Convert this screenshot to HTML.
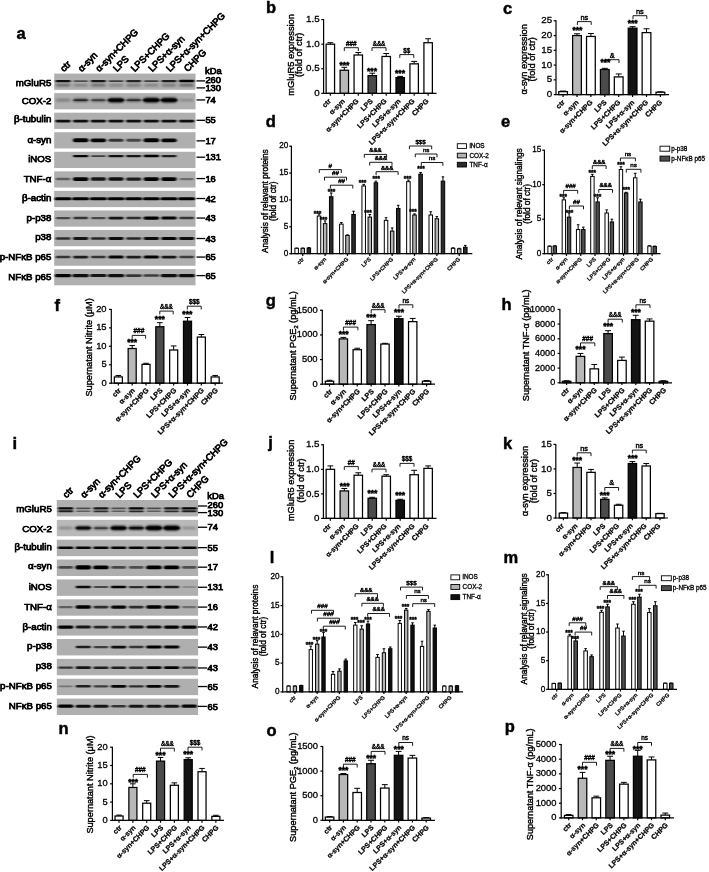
<!DOCTYPE html><html><head><meta charset="utf-8"><style>html,body{margin:0;padding:0;background:#fff;}svg{display:block;filter:blur(0.35px);}text{font-family:"Liberation Sans",sans-serif;}</style></head><body>
<svg width="709" height="872" viewBox="0 0 709 872">
<defs><filter id="bl" x="-30%" y="-150%" width="160%" height="400%"><feGaussianBlur stdDeviation="0.9 0.6"/></filter><filter id="bl2" x="-30%" y="-150%" width="160%" height="400%"><feGaussianBlur stdDeviation="1.4 1.3"/></filter></defs>
<rect width="709" height="872" fill="#fff"/>
<text x="16.4" y="38.7" font-size="16.5" font-weight="bold" stroke="#000" stroke-width="0.45">a</text>
<text x="64.03" y="72.2" font-size="9.4" transform="rotate(-45 64.03 72.2)" stroke="#000" stroke-width="0.75">ctr</text>
<text x="81.69" y="72.2" font-size="9.4" transform="rotate(-45 81.69 72.2)" stroke="#000" stroke-width="0.75">α-syn</text>
<text x="99.36" y="72.2" font-size="9.4" transform="rotate(-45 99.36 72.2)" stroke="#000" stroke-width="0.75">α-syn+CHPG</text>
<text x="117.02" y="72.2" font-size="9.4" transform="rotate(-45 117.02 72.2)" stroke="#000" stroke-width="0.75">LPS</text>
<text x="134.68" y="72.2" font-size="9.4" transform="rotate(-45 134.68 72.2)" stroke="#000" stroke-width="0.75">LPS+CHPG</text>
<text x="152.34" y="72.2" font-size="9.4" transform="rotate(-45 152.34 72.2)" stroke="#000" stroke-width="0.75">LPS+α-syn</text>
<text x="170.01" y="72.2" font-size="9.4" transform="rotate(-45 170.01 72.2)" stroke="#000" stroke-width="0.75">LPS+α-syn+CHPG</text>
<text x="187.67" y="72.2" font-size="9.4" transform="rotate(-45 187.67 72.2)" stroke="#000" stroke-width="0.75">CHPG</text>
<text x="205.1" y="74.4" font-size="9.4" stroke="#000" stroke-width="0.75">kDa</text>
<rect x="54.2" y="73.6" width="141.3" height="16.2" fill="#afafaf"/>
<rect x="55.35" y="79.92" width="15.37" height="2.37" rx="1.18" fill="#000" fill-opacity="0.92" filter="url(#bl)"/>
<rect x="73.36" y="80.2" width="14.66" height="1.79" rx="0.9" fill="#000" fill-opacity="0.56" filter="url(#bl)"/>
<rect x="90.72" y="79.95" width="15.28" height="2.29" rx="1.15" fill="#000" fill-opacity="0.88" filter="url(#bl)"/>
<rect x="108.6" y="80.13" width="14.84" height="1.94" rx="0.97" fill="#000" fill-opacity="0.65" filter="url(#bl)"/>
<rect x="126.13" y="80.02" width="15.1" height="2.15" rx="1.08" fill="#000" fill-opacity="0.79" filter="url(#bl)"/>
<rect x="143.93" y="80.13" width="14.84" height="1.94" rx="0.97" fill="#000" fill-opacity="0.65" filter="url(#bl)"/>
<rect x="161.41" y="79.99" width="15.19" height="2.22" rx="1.11" fill="#000" fill-opacity="0.83" filter="url(#bl)"/>
<rect x="178.9" y="79.85" width="15.54" height="2.51" rx="1.25" fill="#000" fill-opacity="1" filter="url(#bl)"/>
<rect x="55.77" y="84.1" width="14.52" height="2.2" rx="1.1" fill="#000" fill-opacity="0.49" filter="url(#bl2)"/>
<rect x="73.58" y="84.25" width="14.24" height="1.9" rx="0.95" fill="#000" fill-opacity="0.34" filter="url(#bl2)"/>
<rect x="91.11" y="84.12" width="14.48" height="2.16" rx="1.08" fill="#000" fill-opacity="0.47" filter="url(#bl2)"/>
<rect x="108.9" y="84.25" width="14.24" height="1.9" rx="0.95" fill="#000" fill-opacity="0.34" filter="url(#bl2)"/>
<rect x="126.49" y="84.18" width="14.38" height="2.05" rx="1.02" fill="#000" fill-opacity="0.42" filter="url(#bl2)"/>
<rect x="144.23" y="84.25" width="14.24" height="1.9" rx="0.95" fill="#000" fill-opacity="0.34" filter="url(#bl2)"/>
<rect x="161.8" y="84.16" width="14.41" height="2.08" rx="1.04" fill="#000" fill-opacity="0.43" filter="url(#bl2)"/>
<rect x="179.37" y="84.06" width="14.59" height="2.27" rx="1.14" fill="#000" fill-opacity="0.52" filter="url(#bl2)"/>
<text x="51.3" y="85.6" font-size="9.7" text-anchor="end" stroke="#000" stroke-width="0.75">mGluR5</text>
<line x1="196.5" y1="80.9" x2="205.2" y2="80.9" stroke="#000" stroke-width="1.3"/>
<text x="205.4" y="82.8" font-size="9.4" stroke="#000" stroke-width="0.75">260</text>
<line x1="196.5" y1="87.9" x2="205.2" y2="87.9" stroke="#000" stroke-width="1.3"/>
<text x="205.4" y="91" font-size="9.4" stroke="#000" stroke-width="0.75">130</text>
<rect x="54.2" y="93.15" width="141.3" height="16.2" fill="#afafaf"/>
<rect x="55.95" y="98.86" width="14.17" height="2.57" rx="1.29" fill="#000" fill-opacity="0.31" filter="url(#bl2)"/>
<rect x="73.35" y="98.47" width="14.7" height="3.36" rx="1.68" fill="#000" fill-opacity="0.58" filter="url(#bl2)"/>
<rect x="91.11" y="98.63" width="14.48" height="3.05" rx="1.52" fill="#000" fill-opacity="0.47" filter="url(#bl2)"/>
<rect x="108.29" y="97.9" width="15.45" height="4.5" rx="2.25" fill="#000" fill-opacity="0.97" filter="url(#bl2)"/>
<rect x="126.35" y="98.49" width="14.66" height="3.31" rx="1.66" fill="#000" fill-opacity="0.56" filter="url(#bl2)"/>
<rect x="143.48" y="97.7" width="15.72" height="4.9" rx="2.45" fill="#000" fill-opacity="1" filter="url(#bl2)"/>
<rect x="161.19" y="97.77" width="15.63" height="4.76" rx="2.38" fill="#000" fill-opacity="1" filter="url(#bl2)"/>
<rect x="179.64" y="98.94" width="14.06" height="2.41" rx="1.21" fill="#000" fill-opacity="0.25" filter="url(#bl2)"/>
<rect x="73.36" y="99.18" width="14.66" height="1.93" rx="0.97" fill="#000" fill-opacity="0.56" filter="url(#bl)"/>
<rect x="91.16" y="99.3" width="14.39" height="1.7" rx="0.85" fill="#000" fill-opacity="0.43" filter="url(#bl)"/>
<rect x="108.29" y="98.84" width="15.45" height="2.62" rx="1.31" fill="#000" fill-opacity="0.97" filter="url(#bl)"/>
<rect x="126.4" y="99.22" width="14.57" height="1.85" rx="0.93" fill="#000" fill-opacity="0.52" filter="url(#bl)"/>
<rect x="143.48" y="98.72" width="15.72" height="2.86" rx="1.43" fill="#000" fill-opacity="1" filter="url(#bl)"/>
<rect x="161.19" y="98.76" width="15.63" height="2.78" rx="1.39" fill="#000" fill-opacity="1" filter="url(#bl)"/>
<text x="51.3" y="103.85" font-size="9.7" text-anchor="end" stroke="#000" stroke-width="0.75">COX-2</text>
<line x1="196.5" y1="99.95" x2="205.2" y2="99.95" stroke="#000" stroke-width="1.3"/>
<text x="205.4" y="103.05" font-size="9.4" stroke="#000" stroke-width="0.75">74</text>
<rect x="54.2" y="112.7" width="141.3" height="16.2" fill="#afafaf"/>
<rect x="55.35" y="119.83" width="15.37" height="2.55" rx="1.27" fill="#000" fill-opacity="0.92" filter="url(#bl)"/>
<rect x="73.01" y="119.83" width="15.37" height="2.55" rx="1.27" fill="#000" fill-opacity="0.92" filter="url(#bl)"/>
<rect x="90.67" y="119.83" width="15.37" height="2.55" rx="1.27" fill="#000" fill-opacity="0.92" filter="url(#bl)"/>
<rect x="108.34" y="119.83" width="15.37" height="2.55" rx="1.27" fill="#000" fill-opacity="0.92" filter="url(#bl)"/>
<rect x="126" y="119.83" width="15.37" height="2.55" rx="1.27" fill="#000" fill-opacity="0.92" filter="url(#bl)"/>
<rect x="143.66" y="119.83" width="15.37" height="2.55" rx="1.27" fill="#000" fill-opacity="0.92" filter="url(#bl)"/>
<rect x="161.32" y="119.83" width="15.37" height="2.55" rx="1.27" fill="#000" fill-opacity="0.92" filter="url(#bl)"/>
<rect x="178.99" y="119.83" width="15.37" height="2.55" rx="1.27" fill="#000" fill-opacity="0.92" filter="url(#bl)"/>
<text x="51.3" y="122.3" font-size="9.7" text-anchor="end" stroke="#000" stroke-width="0.75">β-tubulin</text>
<line x1="196.5" y1="120.3" x2="205.2" y2="120.3" stroke="#000" stroke-width="1.3"/>
<text x="205.4" y="123.4" font-size="9.4" stroke="#000" stroke-width="0.75">55</text>
<rect x="54.2" y="132.25" width="141.3" height="16.2" fill="#afafaf"/>
<rect x="72.92" y="138.32" width="15.54" height="3.86" rx="1.93" fill="#000" fill-opacity="1" filter="url(#bl)"/>
<rect x="90.63" y="138.38" width="15.45" height="3.75" rx="1.88" fill="#000" fill-opacity="0.97" filter="url(#bl)"/>
<rect x="108.56" y="138.71" width="14.92" height="3.09" rx="1.54" fill="#000" fill-opacity="0.7" filter="url(#bl)"/>
<rect x="126.31" y="138.81" width="14.75" height="2.87" rx="1.44" fill="#000" fill-opacity="0.6" filter="url(#bl)"/>
<rect x="143.53" y="138.26" width="15.63" height="3.97" rx="1.98" fill="#000" fill-opacity="1" filter="url(#bl)"/>
<rect x="161.28" y="138.38" width="15.45" height="3.75" rx="1.88" fill="#000" fill-opacity="0.97" filter="url(#bl)"/>
<text x="51.3" y="142.65" font-size="9.7" text-anchor="end" stroke="#000" stroke-width="0.75">α-syn</text>
<line x1="196.5" y1="140.85" x2="205.2" y2="140.85" stroke="#000" stroke-width="1.3"/>
<text x="205.4" y="143.95" font-size="9.4" stroke="#000" stroke-width="0.75">17</text>
<rect x="54.2" y="151.8" width="141.3" height="16.2" fill="#afafaf"/>
<rect x="72.97" y="154.88" width="15.45" height="2.44" rx="1.22" fill="#000" fill-opacity="0.97" filter="url(#bl)"/>
<rect x="90.94" y="155.13" width="14.84" height="1.94" rx="0.97" fill="#000" fill-opacity="0.65" filter="url(#bl)"/>
<rect x="108.34" y="154.92" width="15.37" height="2.37" rx="1.18" fill="#000" fill-opacity="0.92" filter="url(#bl)"/>
<rect x="126.04" y="154.95" width="15.28" height="2.29" rx="1.15" fill="#000" fill-opacity="0.88" filter="url(#bl)"/>
<rect x="143.57" y="154.85" width="15.54" height="2.51" rx="1.25" fill="#000" fill-opacity="1" filter="url(#bl)"/>
<rect x="161.41" y="154.99" width="15.19" height="2.22" rx="1.11" fill="#000" fill-opacity="0.83" filter="url(#bl)"/>
<text x="51.3" y="161.7" font-size="9.7" text-anchor="end" stroke="#000" stroke-width="0.75">iNOS</text>
<line x1="196.5" y1="157.2" x2="205.2" y2="157.2" stroke="#000" stroke-width="1.3"/>
<text x="205.4" y="160.3" font-size="9.4" stroke="#000" stroke-width="0.75">131</text>
<rect x="54.2" y="171.35" width="141.3" height="16.2" fill="#afafaf"/>
<rect x="55.79" y="177.84" width="14.48" height="2.41" rx="1.21" fill="#000" fill-opacity="0.47" filter="url(#bl)"/>
<rect x="72.88" y="177.16" width="15.63" height="3.77" rx="1.89" fill="#000" fill-opacity="1" filter="url(#bl)"/>
<rect x="90.72" y="177.37" width="15.28" height="3.35" rx="1.68" fill="#000" fill-opacity="0.88" filter="url(#bl)"/>
<rect x="108.34" y="177.32" width="15.37" height="3.46" rx="1.73" fill="#000" fill-opacity="0.92" filter="url(#bl)"/>
<rect x="126.09" y="177.43" width="15.19" height="3.25" rx="1.62" fill="#000" fill-opacity="0.83" filter="url(#bl)"/>
<rect x="143.57" y="177.22" width="15.54" height="3.67" rx="1.83" fill="#000" fill-opacity="1" filter="url(#bl)"/>
<rect x="161.23" y="177.22" width="15.54" height="3.67" rx="1.83" fill="#000" fill-opacity="1" filter="url(#bl)"/>
<rect x="179.52" y="177.95" width="14.31" height="2.2" rx="1.1" fill="#000" fill-opacity="0.38" filter="url(#bl)"/>
<text x="51.3" y="181.75" font-size="9.7" text-anchor="end" stroke="#000" stroke-width="0.75">TNF-α</text>
<line x1="196.5" y1="178.55" x2="205.2" y2="178.55" stroke="#000" stroke-width="1.3"/>
<text x="205.4" y="181.65" font-size="9.4" stroke="#000" stroke-width="0.75">16</text>
<rect x="54.2" y="190.9" width="141.3" height="16.2" fill="#afafaf"/>
<rect x="54.46" y="197.16" width="17.13" height="3.09" rx="1.54" fill="#000" fill-opacity="1" filter="url(#bl)"/>
<rect x="72.13" y="197.16" width="17.13" height="3.09" rx="1.54" fill="#000" fill-opacity="1" filter="url(#bl)"/>
<rect x="89.79" y="197.16" width="17.13" height="3.09" rx="1.54" fill="#000" fill-opacity="1" filter="url(#bl)"/>
<rect x="107.45" y="197.16" width="17.13" height="3.09" rx="1.54" fill="#000" fill-opacity="1" filter="url(#bl)"/>
<rect x="125.11" y="197.16" width="17.13" height="3.09" rx="1.54" fill="#000" fill-opacity="1" filter="url(#bl)"/>
<rect x="142.78" y="197.16" width="17.13" height="3.09" rx="1.54" fill="#000" fill-opacity="1" filter="url(#bl)"/>
<rect x="160.44" y="197.16" width="17.13" height="3.09" rx="1.54" fill="#000" fill-opacity="1" filter="url(#bl)"/>
<rect x="178.1" y="197.16" width="17.13" height="3.09" rx="1.54" fill="#000" fill-opacity="1" filter="url(#bl)"/>
<text x="51.3" y="200.8" font-size="9.7" text-anchor="end" stroke="#000" stroke-width="0.75">β-actin</text>
<line x1="196.5" y1="198.5" x2="205.2" y2="198.5" stroke="#000" stroke-width="1.3"/>
<text x="205.4" y="201.6" font-size="9.4" stroke="#000" stroke-width="0.75">42</text>
<rect x="54.2" y="210.45" width="141.3" height="16.2" fill="#afafaf"/>
<rect x="55.66" y="216.9" width="14.75" height="2.3" rx="1.15" fill="#000" fill-opacity="0.6" filter="url(#bl)"/>
<rect x="73.23" y="216.81" width="14.92" height="2.47" rx="1.24" fill="#000" fill-opacity="0.7" filter="url(#bl)"/>
<rect x="90.98" y="216.9" width="14.75" height="2.3" rx="1.15" fill="#000" fill-opacity="0.6" filter="url(#bl)"/>
<rect x="108.38" y="216.64" width="15.28" height="2.82" rx="1.41" fill="#000" fill-opacity="0.88" filter="url(#bl)"/>
<rect x="126.17" y="216.77" width="15.01" height="2.56" rx="1.28" fill="#000" fill-opacity="0.74" filter="url(#bl)"/>
<rect x="143.48" y="216.42" width="15.72" height="3.26" rx="1.63" fill="#000" fill-opacity="1" filter="url(#bl)"/>
<rect x="161.28" y="216.55" width="15.45" height="3" rx="1.5" fill="#000" fill-opacity="0.97" filter="url(#bl)"/>
<rect x="179.21" y="216.81" width="14.92" height="2.47" rx="1.24" fill="#000" fill-opacity="0.7" filter="url(#bl)"/>
<text x="51.3" y="220.85" font-size="9.7" text-anchor="end" stroke="#000" stroke-width="0.75">p-p38</text>
<line x1="196.5" y1="218.05" x2="205.2" y2="218.05" stroke="#000" stroke-width="1.3"/>
<text x="205.4" y="221.15" font-size="9.4" stroke="#000" stroke-width="0.75">43</text>
<rect x="54.2" y="230" width="141.3" height="16.2" fill="#afafaf"/>
<rect x="55.52" y="237.22" width="15.01" height="2.56" rx="1.28" fill="#000" fill-opacity="0.74" filter="url(#bl)"/>
<rect x="73.05" y="237.09" width="15.28" height="2.82" rx="1.41" fill="#000" fill-opacity="0.88" filter="url(#bl)"/>
<rect x="90.81" y="237.18" width="15.1" height="2.65" rx="1.32" fill="#000" fill-opacity="0.79" filter="url(#bl)"/>
<rect x="108.34" y="237.04" width="15.37" height="2.91" rx="1.46" fill="#000" fill-opacity="0.92" filter="url(#bl)"/>
<rect x="126.13" y="237.18" width="15.1" height="2.65" rx="1.32" fill="#000" fill-opacity="0.79" filter="url(#bl)"/>
<rect x="143.66" y="237.04" width="15.37" height="2.91" rx="1.46" fill="#000" fill-opacity="0.92" filter="url(#bl)"/>
<rect x="161.28" y="237" width="15.45" height="3" rx="1.5" fill="#000" fill-opacity="0.97" filter="url(#bl)"/>
<rect x="178.99" y="237.04" width="15.37" height="2.91" rx="1.46" fill="#000" fill-opacity="0.92" filter="url(#bl)"/>
<text x="51.3" y="240.4" font-size="9.7" text-anchor="end" stroke="#000" stroke-width="0.75">p38</text>
<line x1="196.5" y1="238.5" x2="205.2" y2="238.5" stroke="#000" stroke-width="1.3"/>
<text x="205.4" y="241.6" font-size="9.4" stroke="#000" stroke-width="0.75">43</text>
<rect x="54.2" y="249.55" width="141.3" height="16.2" fill="#afafaf"/>
<rect x="55.57" y="255.81" width="14.92" height="2.47" rx="1.24" fill="#000" fill-opacity="0.7" filter="url(#bl)"/>
<rect x="73.1" y="255.68" width="15.19" height="2.74" rx="1.37" fill="#000" fill-opacity="0.83" filter="url(#bl)"/>
<rect x="90.89" y="255.81" width="14.92" height="2.47" rx="1.24" fill="#000" fill-opacity="0.7" filter="url(#bl)"/>
<rect x="108.29" y="255.55" width="15.45" height="3" rx="1.5" fill="#000" fill-opacity="0.97" filter="url(#bl)"/>
<rect x="126.09" y="255.68" width="15.19" height="2.74" rx="1.37" fill="#000" fill-opacity="0.83" filter="url(#bl)"/>
<rect x="143.57" y="255.51" width="15.54" height="3.09" rx="1.54" fill="#000" fill-opacity="1" filter="url(#bl)"/>
<rect x="161.37" y="255.64" width="15.28" height="2.82" rx="1.41" fill="#000" fill-opacity="0.88" filter="url(#bl)"/>
<rect x="179.25" y="255.86" width="14.84" height="2.38" rx="1.19" fill="#000" fill-opacity="0.65" filter="url(#bl)"/>
<text x="51.3" y="259.95" font-size="9.7" text-anchor="end" stroke="#000" stroke-width="0.75">p-NFκB p65</text>
<line x1="196.5" y1="257.05" x2="205.2" y2="257.05" stroke="#000" stroke-width="1.3"/>
<text x="205.4" y="260.15" font-size="9.4" stroke="#000" stroke-width="0.75">65</text>
<rect x="54.2" y="269.1" width="141.3" height="16.2" fill="#afafaf"/>
<rect x="54.69" y="274.01" width="16.69" height="3.19" rx="1.59" fill="#000" fill-opacity="0.97" filter="url(#bl)"/>
<rect x="72.39" y="274.05" width="16.6" height="3.09" rx="1.55" fill="#000" fill-opacity="0.92" filter="url(#bl)"/>
<rect x="90.1" y="274.1" width="16.51" height="3" rx="1.5" fill="#000" fill-opacity="0.88" filter="url(#bl)"/>
<rect x="107.72" y="274.05" width="16.6" height="3.09" rx="1.55" fill="#000" fill-opacity="0.92" filter="url(#bl)"/>
<rect x="125.6" y="274.29" width="16.16" height="2.63" rx="1.31" fill="#000" fill-opacity="0.7" filter="url(#bl)"/>
<rect x="143.31" y="274.33" width="16.07" height="2.53" rx="1.27" fill="#000" fill-opacity="0.65" filter="url(#bl)"/>
<rect x="160.7" y="274.05" width="16.6" height="3.09" rx="1.55" fill="#000" fill-opacity="0.92" filter="url(#bl)"/>
<rect x="178.37" y="274.05" width="16.6" height="3.09" rx="1.55" fill="#000" fill-opacity="0.92" filter="url(#bl)"/>
<text x="51.3" y="279.5" font-size="9.7" text-anchor="end" stroke="#000" stroke-width="0.75">NFκB p65</text>
<line x1="196.5" y1="275.6" x2="205.2" y2="275.6" stroke="#000" stroke-width="1.3"/>
<text x="205.4" y="278.7" font-size="9.4" stroke="#000" stroke-width="0.75">65</text>
<text x="12.4" y="448.6" font-size="16.5" font-weight="bold" stroke="#000" stroke-width="0.45">i</text>
<text x="66.63" y="498.4" font-size="9.4" transform="rotate(-45 66.63 498.4)" stroke="#000" stroke-width="0.75">ctr</text>
<text x="84.29" y="498.4" font-size="9.4" transform="rotate(-45 84.29 498.4)" stroke="#000" stroke-width="0.75">α-syn</text>
<text x="101.96" y="498.4" font-size="9.4" transform="rotate(-45 101.96 498.4)" stroke="#000" stroke-width="0.75">α-syn+CHPG</text>
<text x="119.62" y="498.4" font-size="9.4" transform="rotate(-45 119.62 498.4)" stroke="#000" stroke-width="0.75">LPS</text>
<text x="137.28" y="498.4" font-size="9.4" transform="rotate(-45 137.28 498.4)" stroke="#000" stroke-width="0.75">LPS+CHPG</text>
<text x="154.94" y="498.4" font-size="9.4" transform="rotate(-45 154.94 498.4)" stroke="#000" stroke-width="0.75">LPS+α-syn</text>
<text x="172.61" y="498.4" font-size="9.4" transform="rotate(-45 172.61 498.4)" stroke="#000" stroke-width="0.75">LPS+α-syn+CHPG</text>
<text x="190.27" y="498.4" font-size="9.4" transform="rotate(-45 190.27 498.4)" stroke="#000" stroke-width="0.75">CHPG</text>
<text x="207.3" y="498.6" font-size="9.4" stroke="#000" stroke-width="0.75">kDa</text>
<rect x="56.8" y="500" width="141.3" height="16.4" fill="#afafaf"/>
<rect x="57.9" y="507.27" width="15.45" height="2.25" rx="1.12" fill="#000" fill-opacity="0.97" filter="url(#bl)"/>
<rect x="75.96" y="507.57" width="14.66" height="1.66" rx="0.83" fill="#000" fill-opacity="0.56" filter="url(#bl)"/>
<rect x="93.32" y="507.34" width="15.28" height="2.12" rx="1.06" fill="#000" fill-opacity="0.88" filter="url(#bl)"/>
<rect x="111.29" y="507.57" width="14.66" height="1.66" rx="0.83" fill="#000" fill-opacity="0.56" filter="url(#bl)"/>
<rect x="128.55" y="507.27" width="15.45" height="2.25" rx="1.12" fill="#000" fill-opacity="0.97" filter="url(#bl)"/>
<rect x="146.61" y="507.57" width="14.66" height="1.66" rx="0.83" fill="#000" fill-opacity="0.56" filter="url(#bl)"/>
<rect x="163.97" y="507.34" width="15.28" height="2.12" rx="1.06" fill="#000" fill-opacity="0.88" filter="url(#bl)"/>
<rect x="181.45" y="507.21" width="15.63" height="2.38" rx="1.19" fill="#000" fill-opacity="1" filter="url(#bl)"/>
<rect x="58.04" y="510.36" width="15.19" height="1.88" rx="0.94" fill="#000" fill-opacity="0.83" filter="url(#bl)"/>
<rect x="76.05" y="510.6" width="14.48" height="1.4" rx="0.7" fill="#000" fill-opacity="0.47" filter="url(#bl)"/>
<rect x="93.45" y="510.42" width="15.01" height="1.76" rx="0.88" fill="#000" fill-opacity="0.74" filter="url(#bl)"/>
<rect x="111.38" y="510.6" width="14.48" height="1.4" rx="0.7" fill="#000" fill-opacity="0.47" filter="url(#bl)"/>
<rect x="128.73" y="510.39" width="15.1" height="1.82" rx="0.91" fill="#000" fill-opacity="0.79" filter="url(#bl)"/>
<rect x="146.7" y="510.6" width="14.48" height="1.4" rx="0.7" fill="#000" fill-opacity="0.47" filter="url(#bl)"/>
<rect x="164.1" y="510.42" width="15.01" height="1.76" rx="0.88" fill="#000" fill-opacity="0.74" filter="url(#bl)"/>
<rect x="181.67" y="510.36" width="15.19" height="1.88" rx="0.94" fill="#000" fill-opacity="0.83" filter="url(#bl)"/>
<text x="51.8" y="511.6" font-size="9.7" text-anchor="end" stroke="#000" stroke-width="0.75">mGluR5</text>
<line x1="198" y1="506" x2="207.2" y2="506" stroke="#000" stroke-width="1.3"/>
<text x="207.5" y="507.9" font-size="9.4" stroke="#000" stroke-width="0.75">260</text>
<line x1="198" y1="512.6" x2="207.2" y2="512.6" stroke="#000" stroke-width="1.3"/>
<text x="207.5" y="515.7" font-size="9.4" stroke="#000" stroke-width="0.75">130</text>
<rect x="56.8" y="519.86" width="141.3" height="16.4" fill="#b9b9b9"/>
<rect x="58.57" y="526.8" width="14.13" height="2.52" rx="1.26" fill="#000" fill-opacity="0.29" filter="url(#bl2)"/>
<rect x="75.7" y="526.01" width="15.19" height="4.1" rx="2.05" fill="#000" fill-opacity="0.83" filter="url(#bl2)"/>
<rect x="93.67" y="526.47" width="14.57" height="3.18" rx="1.59" fill="#000" fill-opacity="0.52" filter="url(#bl2)"/>
<rect x="110.89" y="525.81" width="15.45" height="4.5" rx="2.25" fill="#000" fill-opacity="0.97" filter="url(#bl2)"/>
<rect x="128.73" y="526.07" width="15.1" height="3.97" rx="1.99" fill="#000" fill-opacity="0.79" filter="url(#bl2)"/>
<rect x="146.08" y="525.61" width="15.72" height="4.9" rx="2.45" fill="#000" fill-opacity="1" filter="url(#bl2)"/>
<rect x="163.75" y="525.61" width="15.72" height="4.9" rx="2.45" fill="#000" fill-opacity="1" filter="url(#bl2)"/>
<rect x="182.22" y="526.83" width="14.09" height="2.47" rx="1.23" fill="#000" fill-opacity="0.27" filter="url(#bl2)"/>
<rect x="75.79" y="526.86" width="15.01" height="2.4" rx="1.2" fill="#000" fill-opacity="0.74" filter="url(#bl)"/>
<rect x="93.76" y="527.15" width="14.39" height="1.82" rx="0.91" fill="#000" fill-opacity="0.43" filter="url(#bl)"/>
<rect x="110.94" y="526.7" width="15.37" height="2.73" rx="1.36" fill="#000" fill-opacity="0.92" filter="url(#bl)"/>
<rect x="128.82" y="526.9" width="14.92" height="2.32" rx="1.16" fill="#000" fill-opacity="0.7" filter="url(#bl)"/>
<rect x="146.08" y="526.53" width="15.72" height="3.06" rx="1.53" fill="#000" fill-opacity="1" filter="url(#bl)"/>
<rect x="163.75" y="526.53" width="15.72" height="3.06" rx="1.53" fill="#000" fill-opacity="1" filter="url(#bl)"/>
<text x="51.8" y="531.56" font-size="9.7" text-anchor="end" stroke="#000" stroke-width="0.75">COX-2</text>
<line x1="198" y1="527.26" x2="207.2" y2="527.26" stroke="#000" stroke-width="1.3"/>
<text x="207.5" y="530.36" font-size="9.4" stroke="#000" stroke-width="0.75">74</text>
<rect x="56.8" y="539.72" width="141.3" height="16.4" fill="#afafaf"/>
<rect x="57.9" y="546.5" width="15.45" height="2.44" rx="1.22" fill="#000" fill-opacity="0.97" filter="url(#bl)"/>
<rect x="75.57" y="546.5" width="15.45" height="2.44" rx="1.22" fill="#000" fill-opacity="0.97" filter="url(#bl)"/>
<rect x="93.23" y="546.5" width="15.45" height="2.44" rx="1.22" fill="#000" fill-opacity="0.97" filter="url(#bl)"/>
<rect x="110.89" y="546.5" width="15.45" height="2.44" rx="1.22" fill="#000" fill-opacity="0.97" filter="url(#bl)"/>
<rect x="128.55" y="546.5" width="15.45" height="2.44" rx="1.22" fill="#000" fill-opacity="0.97" filter="url(#bl)"/>
<rect x="146.22" y="546.5" width="15.45" height="2.44" rx="1.22" fill="#000" fill-opacity="0.97" filter="url(#bl)"/>
<rect x="163.88" y="546.5" width="15.45" height="2.44" rx="1.22" fill="#000" fill-opacity="0.97" filter="url(#bl)"/>
<rect x="181.54" y="546.5" width="15.45" height="2.44" rx="1.22" fill="#000" fill-opacity="0.97" filter="url(#bl)"/>
<text x="51.8" y="550.32" font-size="9.7" text-anchor="end" stroke="#000" stroke-width="0.75">β-tubulin</text>
<line x1="198" y1="547.62" x2="207.2" y2="547.62" stroke="#000" stroke-width="1.3"/>
<text x="207.5" y="550.72" font-size="9.4" stroke="#000" stroke-width="0.75">55</text>
<rect x="56.8" y="559.58" width="141.3" height="16.4" fill="#afafaf"/>
<rect x="58.26" y="565.95" width="14.75" height="2.87" rx="1.44" fill="#000" fill-opacity="0.6" filter="url(#bl)"/>
<rect x="75.43" y="565.34" width="15.72" height="4.08" rx="2.04" fill="#000" fill-opacity="1" filter="url(#bl)"/>
<rect x="93.18" y="565.45" width="15.54" height="3.86" rx="1.93" fill="#000" fill-opacity="1" filter="url(#bl)"/>
<rect x="111.24" y="565.95" width="14.75" height="2.87" rx="1.44" fill="#000" fill-opacity="0.6" filter="url(#bl)"/>
<rect x="128.95" y="566" width="14.66" height="2.76" rx="1.38" fill="#000" fill-opacity="0.56" filter="url(#bl)"/>
<rect x="146.17" y="565.45" width="15.54" height="3.86" rx="1.93" fill="#000" fill-opacity="1" filter="url(#bl)"/>
<rect x="163.83" y="565.45" width="15.54" height="3.86" rx="1.93" fill="#000" fill-opacity="1" filter="url(#bl)"/>
<rect x="181.94" y="566" width="14.66" height="2.76" rx="1.38" fill="#000" fill-opacity="0.56" filter="url(#bl)"/>
<text x="51.8" y="569.18" font-size="9.7" text-anchor="end" stroke="#000" stroke-width="0.75">α-syn</text>
<line x1="198" y1="567.18" x2="207.2" y2="567.18" stroke="#000" stroke-width="1.3"/>
<text x="207.5" y="570.28" font-size="9.4" stroke="#000" stroke-width="0.75">17</text>
<rect x="56.8" y="579.44" width="141.3" height="16.4" fill="#afafaf"/>
<rect x="75.61" y="585.77" width="15.37" height="2.55" rx="1.27" fill="#000" fill-opacity="0.92" filter="url(#bl)"/>
<rect x="93.58" y="586.04" width="14.75" height="2.01" rx="1" fill="#000" fill-opacity="0.6" filter="url(#bl)"/>
<rect x="110.89" y="585.73" width="15.45" height="2.62" rx="1.31" fill="#000" fill-opacity="0.97" filter="url(#bl)"/>
<rect x="128.77" y="585.92" width="15.01" height="2.24" rx="1.12" fill="#000" fill-opacity="0.74" filter="url(#bl)"/>
<rect x="146.22" y="585.73" width="15.45" height="2.62" rx="1.31" fill="#000" fill-opacity="0.97" filter="url(#bl)"/>
<rect x="164.01" y="585.84" width="15.19" height="2.39" rx="1.2" fill="#000" fill-opacity="0.83" filter="url(#bl)"/>
<rect x="182.22" y="586.32" width="14.09" height="1.44" rx="0.72" fill="#000" fill-opacity="0.27" filter="url(#bl)"/>
<text x="51.8" y="589.64" font-size="9.7" text-anchor="end" stroke="#000" stroke-width="0.75">iNOS</text>
<line x1="198" y1="587.24" x2="207.2" y2="587.24" stroke="#000" stroke-width="1.3"/>
<text x="207.5" y="590.34" font-size="9.4" stroke="#000" stroke-width="0.75">131</text>
<rect x="56.8" y="599.3" width="141.3" height="16.4" fill="#afafaf"/>
<rect x="58.39" y="605.96" width="14.48" height="2.29" rx="1.14" fill="#000" fill-opacity="0.47" filter="url(#bl)"/>
<rect x="75.52" y="605.36" width="15.54" height="3.47" rx="1.74" fill="#000" fill-opacity="1" filter="url(#bl)"/>
<rect x="93.45" y="605.66" width="15.01" height="2.88" rx="1.44" fill="#000" fill-opacity="0.74" filter="url(#bl)"/>
<rect x="110.89" y="605.41" width="15.45" height="3.38" rx="1.69" fill="#000" fill-opacity="0.97" filter="url(#bl)"/>
<rect x="128.77" y="605.66" width="15.01" height="2.88" rx="1.44" fill="#000" fill-opacity="0.74" filter="url(#bl)"/>
<rect x="146.17" y="605.36" width="15.54" height="3.47" rx="1.74" fill="#000" fill-opacity="1" filter="url(#bl)"/>
<rect x="163.88" y="605.41" width="15.45" height="3.38" rx="1.69" fill="#000" fill-opacity="0.97" filter="url(#bl)"/>
<rect x="182.12" y="606.06" width="14.31" height="2.09" rx="1.04" fill="#000" fill-opacity="0.38" filter="url(#bl)"/>
<text x="51.8" y="609.9" font-size="9.7" text-anchor="end" stroke="#000" stroke-width="0.75">TNF-α</text>
<line x1="198" y1="607.1" x2="207.2" y2="607.1" stroke="#000" stroke-width="1.3"/>
<text x="207.5" y="610.2" font-size="9.4" stroke="#000" stroke-width="0.75">16</text>
<rect x="56.8" y="619.16" width="141.3" height="16.4" fill="#afafaf"/>
<rect x="57.86" y="625.42" width="15.54" height="3.28" rx="1.64" fill="#000" fill-opacity="1" filter="url(#bl)"/>
<rect x="75.65" y="625.56" width="15.28" height="3" rx="1.5" fill="#000" fill-opacity="0.88" filter="url(#bl)"/>
<rect x="93.41" y="625.65" width="15.1" height="2.81" rx="1.41" fill="#000" fill-opacity="0.79" filter="url(#bl)"/>
<rect x="111.11" y="625.7" width="15.01" height="2.72" rx="1.36" fill="#000" fill-opacity="0.74" filter="url(#bl)"/>
<rect x="128.64" y="625.56" width="15.28" height="3" rx="1.5" fill="#000" fill-opacity="0.88" filter="url(#bl)"/>
<rect x="146.26" y="625.51" width="15.37" height="3.09" rx="1.55" fill="#000" fill-opacity="0.92" filter="url(#bl)"/>
<rect x="163.88" y="625.47" width="15.45" height="3.19" rx="1.59" fill="#000" fill-opacity="0.97" filter="url(#bl)"/>
<rect x="181.5" y="625.42" width="15.54" height="3.28" rx="1.64" fill="#000" fill-opacity="1" filter="url(#bl)"/>
<text x="51.8" y="629.56" font-size="9.7" text-anchor="end" stroke="#000" stroke-width="0.75">β-actin</text>
<line x1="198" y1="626.96" x2="207.2" y2="626.96" stroke="#000" stroke-width="1.3"/>
<text x="207.5" y="630.06" font-size="9.4" stroke="#000" stroke-width="0.75">42</text>
<rect x="56.8" y="639.02" width="141.3" height="16.4" fill="#afafaf"/>
<rect x="75.7" y="645.74" width="15.19" height="2.56" rx="1.28" fill="#000" fill-opacity="0.83" filter="url(#bl)"/>
<rect x="93.54" y="645.9" width="14.84" height="2.23" rx="1.12" fill="#000" fill-opacity="0.65" filter="url(#bl)"/>
<rect x="110.94" y="645.65" width="15.37" height="2.73" rx="1.36" fill="#000" fill-opacity="0.92" filter="url(#bl)"/>
<rect x="128.82" y="645.86" width="14.92" height="2.32" rx="1.16" fill="#000" fill-opacity="0.7" filter="url(#bl)"/>
<rect x="146.17" y="645.57" width="15.54" height="2.9" rx="1.45" fill="#000" fill-opacity="1" filter="url(#bl)"/>
<rect x="163.88" y="645.61" width="15.45" height="2.81" rx="1.41" fill="#000" fill-opacity="0.97" filter="url(#bl)"/>
<text x="51.8" y="649.42" font-size="9.7" text-anchor="end" stroke="#000" stroke-width="0.75">p-p38</text>
<line x1="198" y1="647.12" x2="207.2" y2="647.12" stroke="#000" stroke-width="1.3"/>
<text x="207.5" y="650.22" font-size="9.4" stroke="#000" stroke-width="0.75">43</text>
<rect x="56.8" y="658.88" width="141.3" height="16.4" fill="#afafaf"/>
<rect x="58.17" y="666.52" width="14.92" height="2.32" rx="1.16" fill="#000" fill-opacity="0.7" filter="url(#bl)"/>
<rect x="75.65" y="666.36" width="15.28" height="2.65" rx="1.32" fill="#000" fill-opacity="0.88" filter="url(#bl)"/>
<rect x="93.36" y="666.4" width="15.19" height="2.56" rx="1.28" fill="#000" fill-opacity="0.83" filter="url(#bl)"/>
<rect x="111.02" y="666.4" width="15.19" height="2.56" rx="1.28" fill="#000" fill-opacity="0.83" filter="url(#bl)"/>
<rect x="128.77" y="666.48" width="15.01" height="2.4" rx="1.2" fill="#000" fill-opacity="0.74" filter="url(#bl)"/>
<rect x="146.22" y="666.27" width="15.45" height="2.81" rx="1.41" fill="#000" fill-opacity="0.97" filter="url(#bl)"/>
<rect x="163.88" y="666.27" width="15.45" height="2.81" rx="1.41" fill="#000" fill-opacity="0.97" filter="url(#bl)"/>
<rect x="181.85" y="666.56" width="14.84" height="2.23" rx="1.12" fill="#000" fill-opacity="0.65" filter="url(#bl)"/>
<text x="51.8" y="669.28" font-size="9.7" text-anchor="end" stroke="#000" stroke-width="0.75">p38</text>
<line x1="198" y1="667.98" x2="207.2" y2="667.98" stroke="#000" stroke-width="1.3"/>
<text x="207.5" y="671.08" font-size="9.4" stroke="#000" stroke-width="0.75">43</text>
<rect x="56.8" y="678.74" width="141.3" height="16.4" fill="#afafaf"/>
<rect x="58.52" y="685.51" width="14.22" height="1.66" rx="0.83" fill="#000" fill-opacity="0.34" filter="url(#bl)"/>
<rect x="75.7" y="685.06" width="15.19" height="2.56" rx="1.28" fill="#000" fill-opacity="0.83" filter="url(#bl)"/>
<rect x="93.54" y="685.22" width="14.84" height="2.23" rx="1.12" fill="#000" fill-opacity="0.65" filter="url(#bl)"/>
<rect x="110.89" y="684.93" width="15.45" height="2.81" rx="1.41" fill="#000" fill-opacity="0.97" filter="url(#bl)"/>
<rect x="128.77" y="685.14" width="15.01" height="2.4" rx="1.2" fill="#000" fill-opacity="0.74" filter="url(#bl)"/>
<rect x="146.22" y="684.93" width="15.45" height="2.81" rx="1.41" fill="#000" fill-opacity="0.97" filter="url(#bl)"/>
<rect x="163.97" y="685.02" width="15.28" height="2.65" rx="1.32" fill="#000" fill-opacity="0.88" filter="url(#bl)"/>
<text x="51.8" y="689.14" font-size="9.7" text-anchor="end" stroke="#000" stroke-width="0.75">p-NFκB p65</text>
<line x1="198" y1="686.54" x2="207.2" y2="686.54" stroke="#000" stroke-width="1.3"/>
<text x="207.5" y="689.64" font-size="9.4" stroke="#000" stroke-width="0.75">65</text>
<rect x="56.8" y="698.6" width="141.3" height="16.4" fill="#afafaf"/>
<rect x="57.86" y="704.56" width="15.54" height="3.28" rx="1.64" fill="#000" fill-opacity="1" filter="url(#bl)"/>
<rect x="75.61" y="704.65" width="15.37" height="3.09" rx="1.55" fill="#000" fill-opacity="0.92" filter="url(#bl)"/>
<rect x="93.32" y="704.7" width="15.28" height="3" rx="1.5" fill="#000" fill-opacity="0.88" filter="url(#bl)"/>
<rect x="111.16" y="704.89" width="14.92" height="2.63" rx="1.31" fill="#000" fill-opacity="0.7" filter="url(#bl)"/>
<rect x="128.64" y="704.7" width="15.28" height="3" rx="1.5" fill="#000" fill-opacity="0.88" filter="url(#bl)"/>
<rect x="146.3" y="704.7" width="15.28" height="3" rx="1.5" fill="#000" fill-opacity="0.88" filter="url(#bl)"/>
<rect x="163.97" y="704.7" width="15.28" height="3" rx="1.5" fill="#000" fill-opacity="0.88" filter="url(#bl)"/>
<rect x="181.54" y="704.61" width="15.45" height="3.19" rx="1.59" fill="#000" fill-opacity="0.97" filter="url(#bl)"/>
<text x="51.8" y="709" font-size="9.7" text-anchor="end" stroke="#000" stroke-width="0.75">NFκB p65</text>
<line x1="198" y1="706.4" x2="207.2" y2="706.4" stroke="#000" stroke-width="1.3"/>
<text x="207.5" y="709.5" font-size="9.4" stroke="#000" stroke-width="0.75">65</text>
<line x1="330.35" y1="44.18" x2="330.35" y2="42.71" stroke="#000" stroke-width="1"/>
<line x1="327.44" y1="42.71" x2="333.26" y2="42.71" stroke="#000" stroke-width="1"/>
<rect x="326.12" y="44.18" width="8.45" height="49.17" fill="#fff" stroke="#000" stroke-width="1.25"/>
<line x1="344.32" y1="70.24" x2="344.32" y2="67.29" stroke="#000" stroke-width="1"/>
<line x1="341.41" y1="67.29" x2="347.23" y2="67.29" stroke="#000" stroke-width="1"/>
<rect x="340.1" y="70.24" width="8.45" height="23.11" fill="#b8b8b8" stroke="#000" stroke-width="1.25"/>
<line x1="358.29" y1="55" x2="358.29" y2="52.54" stroke="#000" stroke-width="1"/>
<line x1="355.38" y1="52.54" x2="361.2" y2="52.54" stroke="#000" stroke-width="1"/>
<rect x="354.06" y="55" width="8.45" height="38.35" fill="#fff" stroke="#000" stroke-width="1.25"/>
<line x1="372.26" y1="75.65" x2="372.26" y2="73.19" stroke="#000" stroke-width="1"/>
<line x1="369.35" y1="73.19" x2="375.17" y2="73.19" stroke="#000" stroke-width="1"/>
<rect x="368.04" y="75.65" width="8.45" height="17.7" fill="#4b4b4b" stroke="#000" stroke-width="1.25"/>
<line x1="386.23" y1="56.47" x2="386.23" y2="53.52" stroke="#000" stroke-width="1"/>
<line x1="383.32" y1="53.52" x2="389.14" y2="53.52" stroke="#000" stroke-width="1"/>
<rect x="382" y="56.47" width="8.45" height="36.88" fill="#fff" stroke="#000" stroke-width="1.25"/>
<line x1="400.2" y1="77.62" x2="400.2" y2="76.39" stroke="#000" stroke-width="1"/>
<line x1="397.29" y1="76.39" x2="403.11" y2="76.39" stroke="#000" stroke-width="1"/>
<rect x="395.98" y="77.62" width="8.45" height="15.73" fill="#131313" stroke="#000" stroke-width="1.25"/>
<line x1="414.17" y1="63.85" x2="414.17" y2="61.39" stroke="#000" stroke-width="1"/>
<line x1="411.26" y1="61.39" x2="417.08" y2="61.39" stroke="#000" stroke-width="1"/>
<rect x="409.94" y="63.85" width="8.45" height="29.5" fill="#fff" stroke="#000" stroke-width="1.25"/>
<line x1="428.14" y1="42.71" x2="428.14" y2="38.77" stroke="#000" stroke-width="1"/>
<line x1="425.23" y1="38.77" x2="431.05" y2="38.77" stroke="#000" stroke-width="1"/>
<rect x="423.92" y="42.71" width="8.45" height="50.64" fill="#fff" stroke="#000" stroke-width="1.25"/>
<line x1="323.6" y1="19.1" x2="323.6" y2="93.85" stroke="#000" stroke-width="1.2"/>
<line x1="323.1" y1="93.35" x2="436.5" y2="93.35" stroke="#000" stroke-width="1.2"/>
<line x1="321.3" y1="93.35" x2="323.6" y2="93.35" stroke="#000" stroke-width="1.2"/>
<text x="319.7" y="96" font-size="9.8" text-anchor="end" stroke="#000" stroke-width="0.3">0</text>
<line x1="321.3" y1="68.77" x2="323.6" y2="68.77" stroke="#000" stroke-width="1.2"/>
<text x="319.7" y="71.41" font-size="9.8" text-anchor="end" stroke="#000" stroke-width="0.3">0.5</text>
<line x1="321.3" y1="44.18" x2="323.6" y2="44.18" stroke="#000" stroke-width="1.2"/>
<text x="319.7" y="46.83" font-size="9.8" text-anchor="end" stroke="#000" stroke-width="0.3">1.0</text>
<line x1="321.3" y1="19.6" x2="323.6" y2="19.6" stroke="#000" stroke-width="1.2"/>
<text x="319.7" y="22.25" font-size="9.8" text-anchor="end" stroke="#000" stroke-width="0.3">1.5</text>
<line x1="330.35" y1="93.35" x2="330.35" y2="95.65" stroke="#000" stroke-width="1.2"/>
<text x="331.35" y="101.65" font-size="7.1" font-weight="bold" text-anchor="end" transform="rotate(-45 331.35 101.65)" stroke="#000" stroke-width="0.25">ctr</text>
<line x1="344.32" y1="93.35" x2="344.32" y2="95.65" stroke="#000" stroke-width="1.2"/>
<text x="345.32" y="101.65" font-size="7.1" font-weight="bold" text-anchor="end" transform="rotate(-45 345.32 101.65)" stroke="#000" stroke-width="0.25">α-syn</text>
<line x1="358.29" y1="93.35" x2="358.29" y2="95.65" stroke="#000" stroke-width="1.2"/>
<text x="359.29" y="101.65" font-size="7.1" font-weight="bold" text-anchor="end" transform="rotate(-45 359.29 101.65)" stroke="#000" stroke-width="0.25">α-syn+CHPG</text>
<line x1="372.26" y1="93.35" x2="372.26" y2="95.65" stroke="#000" stroke-width="1.2"/>
<text x="373.26" y="101.65" font-size="7.1" font-weight="bold" text-anchor="end" transform="rotate(-45 373.26 101.65)" stroke="#000" stroke-width="0.25">LPS</text>
<line x1="386.23" y1="93.35" x2="386.23" y2="95.65" stroke="#000" stroke-width="1.2"/>
<text x="387.23" y="101.65" font-size="7.1" font-weight="bold" text-anchor="end" transform="rotate(-45 387.23 101.65)" stroke="#000" stroke-width="0.25">LPS+CHPG</text>
<line x1="400.2" y1="93.35" x2="400.2" y2="95.65" stroke="#000" stroke-width="1.2"/>
<text x="401.2" y="101.65" font-size="7.1" font-weight="bold" text-anchor="end" transform="rotate(-45 401.2 101.65)" stroke="#000" stroke-width="0.25">LPS+α-syn</text>
<line x1="414.17" y1="93.35" x2="414.17" y2="95.65" stroke="#000" stroke-width="1.2"/>
<text x="415.17" y="101.65" font-size="7.1" font-weight="bold" text-anchor="end" transform="rotate(-45 415.17 101.65)" stroke="#000" stroke-width="0.25">LPS+α-syn+CHPG</text>
<line x1="428.14" y1="93.35" x2="428.14" y2="95.65" stroke="#000" stroke-width="1.2"/>
<text x="429.14" y="101.65" font-size="7.1" font-weight="bold" text-anchor="end" transform="rotate(-45 429.14 101.65)" stroke="#000" stroke-width="0.25">CHPG</text>
<text x="293.6" y="54.85" font-size="9.3" text-anchor="middle" transform="rotate(-90 293.6 54.85)" stroke="#000" stroke-width="0.4">mGluR5 expression</text>
<text x="302.2" y="54.85" font-size="9.3" text-anchor="middle" transform="rotate(-90 302.2 54.85)" stroke="#000" stroke-width="0.4">(fold of ctr)</text>
<path d="M344.3 51V47.7H358.3V51" fill="none" stroke="#000" stroke-width="0.9"/>
<text x="351.3" y="45.6" font-size="6.3" text-anchor="middle" stroke="#000" stroke-width="0.4">###</text>
<path d="M372 51V47.7H386V51" fill="none" stroke="#000" stroke-width="0.9"/>
<text x="379" y="45.6" font-size="6.3" text-anchor="middle" stroke="#000" stroke-width="0.4">&amp;&amp;&amp;</text>
<path d="M399.8 57.9V54.6H413.8V57.9" fill="none" stroke="#000" stroke-width="0.9"/>
<text x="406.8" y="52.5" font-size="6.3" text-anchor="middle" stroke="#000" stroke-width="0.4">$$</text>
<text x="344.4" y="67.52" font-size="8.5" font-weight="bold" text-anchor="middle" stroke="#000" stroke-width="0.55">***</text>
<text x="372" y="74.22" font-size="8.5" font-weight="bold" text-anchor="middle" stroke="#000" stroke-width="0.55">***</text>
<text x="400" y="75.72" font-size="8.5" font-weight="bold" text-anchor="middle" stroke="#000" stroke-width="0.55">***</text>
<text x="265.9" y="12.7" font-size="16.5" font-weight="bold" stroke="#000" stroke-width="0.45">b</text>
<line x1="563.1" y1="91.65" x2="563.1" y2="91.06" stroke="#000" stroke-width="1"/>
<line x1="560.1" y1="91.06" x2="566.1" y2="91.06" stroke="#000" stroke-width="1"/>
<rect x="558.73" y="91.65" width="8.75" height="2.95" fill="#fff" stroke="#000" stroke-width="1.25"/>
<line x1="577" y1="35.56" x2="577" y2="33.79" stroke="#000" stroke-width="1"/>
<line x1="574" y1="33.79" x2="580" y2="33.79" stroke="#000" stroke-width="1"/>
<rect x="572.62" y="35.56" width="8.75" height="59.04" fill="#b8b8b8" stroke="#000" stroke-width="1.25"/>
<line x1="590.9" y1="36.45" x2="590.9" y2="33.49" stroke="#000" stroke-width="1"/>
<line x1="587.9" y1="33.49" x2="593.9" y2="33.49" stroke="#000" stroke-width="1"/>
<rect x="586.52" y="36.45" width="8.75" height="58.15" fill="#fff" stroke="#000" stroke-width="1.25"/>
<line x1="604.8" y1="69.51" x2="604.8" y2="68.33" stroke="#000" stroke-width="1"/>
<line x1="601.8" y1="68.33" x2="607.8" y2="68.33" stroke="#000" stroke-width="1"/>
<rect x="600.43" y="69.51" width="8.75" height="25.09" fill="#4b4b4b" stroke="#000" stroke-width="1.25"/>
<line x1="618.7" y1="76.89" x2="618.7" y2="73.94" stroke="#000" stroke-width="1"/>
<line x1="615.7" y1="73.94" x2="621.7" y2="73.94" stroke="#000" stroke-width="1"/>
<rect x="614.33" y="76.89" width="8.75" height="17.71" fill="#fff" stroke="#000" stroke-width="1.25"/>
<line x1="632.6" y1="28.18" x2="632.6" y2="26.7" stroke="#000" stroke-width="1"/>
<line x1="629.6" y1="26.7" x2="635.6" y2="26.7" stroke="#000" stroke-width="1"/>
<rect x="628.23" y="28.18" width="8.75" height="66.42" fill="#131313" stroke="#000" stroke-width="1.25"/>
<line x1="646.5" y1="32.61" x2="646.5" y2="28.77" stroke="#000" stroke-width="1"/>
<line x1="643.5" y1="28.77" x2="649.5" y2="28.77" stroke="#000" stroke-width="1"/>
<rect x="642.12" y="32.61" width="8.75" height="61.99" fill="#fff" stroke="#000" stroke-width="1.25"/>
<line x1="660.4" y1="92.24" x2="660.4" y2="91.8" stroke="#000" stroke-width="1"/>
<line x1="657.4" y1="91.8" x2="663.4" y2="91.8" stroke="#000" stroke-width="1"/>
<rect x="656.02" y="92.24" width="8.75" height="2.36" fill="#fff" stroke="#000" stroke-width="1.25"/>
<line x1="556" y1="20.3" x2="556" y2="95.1" stroke="#000" stroke-width="1.2"/>
<line x1="555.5" y1="94.6" x2="669" y2="94.6" stroke="#000" stroke-width="1.2"/>
<line x1="553.7" y1="94.6" x2="556" y2="94.6" stroke="#000" stroke-width="1.2"/>
<text x="552.1" y="97.25" font-size="9.8" text-anchor="end" stroke="#000" stroke-width="0.3">0</text>
<line x1="553.7" y1="79.84" x2="556" y2="79.84" stroke="#000" stroke-width="1.2"/>
<text x="552.1" y="82.49" font-size="9.8" text-anchor="end" stroke="#000" stroke-width="0.3">5</text>
<line x1="553.7" y1="65.08" x2="556" y2="65.08" stroke="#000" stroke-width="1.2"/>
<text x="552.1" y="67.73" font-size="9.8" text-anchor="end" stroke="#000" stroke-width="0.3">10</text>
<line x1="553.7" y1="50.32" x2="556" y2="50.32" stroke="#000" stroke-width="1.2"/>
<text x="552.1" y="52.97" font-size="9.8" text-anchor="end" stroke="#000" stroke-width="0.3">15</text>
<line x1="553.7" y1="35.56" x2="556" y2="35.56" stroke="#000" stroke-width="1.2"/>
<text x="552.1" y="38.21" font-size="9.8" text-anchor="end" stroke="#000" stroke-width="0.3">20</text>
<line x1="553.7" y1="20.8" x2="556" y2="20.8" stroke="#000" stroke-width="1.2"/>
<text x="552.1" y="23.45" font-size="9.8" text-anchor="end" stroke="#000" stroke-width="0.3">25</text>
<line x1="563.1" y1="94.6" x2="563.1" y2="96.9" stroke="#000" stroke-width="1.2"/>
<text x="565.3" y="102.9" font-size="7.1" font-weight="bold" text-anchor="end" transform="rotate(-45 565.3 102.9)" stroke="#000" stroke-width="0.25">ctr</text>
<line x1="577" y1="94.6" x2="577" y2="96.9" stroke="#000" stroke-width="1.2"/>
<text x="579.2" y="102.9" font-size="7.1" font-weight="bold" text-anchor="end" transform="rotate(-45 579.2 102.9)" stroke="#000" stroke-width="0.25">α-syn</text>
<line x1="590.9" y1="94.6" x2="590.9" y2="96.9" stroke="#000" stroke-width="1.2"/>
<text x="593.1" y="102.9" font-size="7.1" font-weight="bold" text-anchor="end" transform="rotate(-45 593.1 102.9)" stroke="#000" stroke-width="0.25">α-syn+CHPG</text>
<line x1="604.8" y1="94.6" x2="604.8" y2="96.9" stroke="#000" stroke-width="1.2"/>
<text x="607" y="102.9" font-size="7.1" font-weight="bold" text-anchor="end" transform="rotate(-45 607 102.9)" stroke="#000" stroke-width="0.25">LPS</text>
<line x1="618.7" y1="94.6" x2="618.7" y2="96.9" stroke="#000" stroke-width="1.2"/>
<text x="620.9" y="102.9" font-size="7.1" font-weight="bold" text-anchor="end" transform="rotate(-45 620.9 102.9)" stroke="#000" stroke-width="0.25">LPS+CHPG</text>
<line x1="632.6" y1="94.6" x2="632.6" y2="96.9" stroke="#000" stroke-width="1.2"/>
<text x="634.8" y="102.9" font-size="7.1" font-weight="bold" text-anchor="end" transform="rotate(-45 634.8 102.9)" stroke="#000" stroke-width="0.25">LPS+α-syn</text>
<line x1="646.5" y1="94.6" x2="646.5" y2="96.9" stroke="#000" stroke-width="1.2"/>
<text x="648.7" y="102.9" font-size="7.1" font-weight="bold" text-anchor="end" transform="rotate(-45 648.7 102.9)" stroke="#000" stroke-width="0.25">LPS+α-syn+CHPG</text>
<line x1="660.4" y1="94.6" x2="660.4" y2="96.9" stroke="#000" stroke-width="1.2"/>
<text x="662.6" y="102.9" font-size="7.1" font-weight="bold" text-anchor="end" transform="rotate(-45 662.6 102.9)" stroke="#000" stroke-width="0.25">CHPG</text>
<text x="526.6" y="59.3" font-size="9.3" text-anchor="middle" transform="rotate(-90 526.6 59.3)" stroke="#000" stroke-width="0.4">α-syn expression</text>
<text x="535.2" y="59.3" font-size="9.3" text-anchor="middle" transform="rotate(-90 535.2 59.3)" stroke="#000" stroke-width="0.4">(fold of ctr)</text>
<path d="M577.4 24.9V21.6H591.2V24.9" fill="none" stroke="#000" stroke-width="0.9"/>
<text x="584.3" y="19.5" font-size="7.4" text-anchor="middle" stroke="#000" stroke-width="0.4">ns</text>
<path d="M605.2 63V59.7H619V63" fill="none" stroke="#000" stroke-width="0.9"/>
<text x="612.1" y="57.6" font-size="7.4" text-anchor="middle" stroke="#000" stroke-width="0.4">&amp;</text>
<path d="M633 19V15.7H646.8V19" fill="none" stroke="#000" stroke-width="0.9"/>
<text x="639.9" y="13.6" font-size="7.4" text-anchor="middle" stroke="#000" stroke-width="0.4">ns</text>
<text x="577.4" y="33.32" font-size="8.5" font-weight="bold" text-anchor="middle" stroke="#000" stroke-width="0.55">***</text>
<text x="605.4" y="65.02" font-size="8.5" font-weight="bold" text-anchor="middle" stroke="#000" stroke-width="0.55">***</text>
<text x="632.6" y="26.42" font-size="8.5" font-weight="bold" text-anchor="middle" stroke="#000" stroke-width="0.55">***</text>
<text x="503" y="14" font-size="16.5" font-weight="bold" stroke="#000" stroke-width="0.45">c</text>
<line x1="296.65" y1="248.32" x2="296.65" y2="248.06" stroke="#000" stroke-width="1"/>
<line x1="295.35" y1="248.06" x2="297.95" y2="248.06" stroke="#000" stroke-width="1"/>
<rect x="294.9" y="248.32" width="3.5" height="5.38" fill="#fff" stroke="#000" stroke-width="1"/>
<line x1="302.75" y1="248.32" x2="302.75" y2="248.06" stroke="#000" stroke-width="1"/>
<line x1="301.45" y1="248.06" x2="304.05" y2="248.06" stroke="#000" stroke-width="1"/>
<rect x="301" y="248.32" width="3.5" height="5.38" fill="#b3b3b3" stroke="#000" stroke-width="1"/>
<line x1="308.85" y1="248.06" x2="308.85" y2="247.52" stroke="#000" stroke-width="1"/>
<line x1="307.55" y1="247.52" x2="310.15" y2="247.52" stroke="#000" stroke-width="1"/>
<rect x="307.1" y="248.06" width="3.5" height="5.64" fill="#2b2b2b" stroke="#000" stroke-width="1"/>
<line x1="319" y1="216.07" x2="319" y2="213.92" stroke="#000" stroke-width="1"/>
<line x1="317.7" y1="213.92" x2="320.3" y2="213.92" stroke="#000" stroke-width="1"/>
<rect x="317.25" y="216.07" width="3.5" height="37.62" fill="#fff" stroke="#000" stroke-width="1"/>
<line x1="325.1" y1="223.6" x2="325.1" y2="220.91" stroke="#000" stroke-width="1"/>
<line x1="323.8" y1="220.91" x2="326.4" y2="220.91" stroke="#000" stroke-width="1"/>
<rect x="323.35" y="223.6" width="3.5" height="30.1" fill="#b3b3b3" stroke="#000" stroke-width="1"/>
<line x1="331.2" y1="196.72" x2="331.2" y2="192.96" stroke="#000" stroke-width="1"/>
<line x1="329.9" y1="192.96" x2="332.5" y2="192.96" stroke="#000" stroke-width="1"/>
<rect x="329.45" y="196.72" width="3.5" height="56.97" fill="#2b2b2b" stroke="#000" stroke-width="1"/>
<line x1="341.35" y1="224.14" x2="341.35" y2="222.52" stroke="#000" stroke-width="1"/>
<line x1="340.05" y1="222.52" x2="342.65" y2="222.52" stroke="#000" stroke-width="1"/>
<rect x="339.6" y="224.14" width="3.5" height="29.56" fill="#fff" stroke="#000" stroke-width="1"/>
<line x1="347.45" y1="235.42" x2="347.45" y2="234.89" stroke="#000" stroke-width="1"/>
<line x1="346.15" y1="234.89" x2="348.75" y2="234.89" stroke="#000" stroke-width="1"/>
<rect x="345.7" y="235.42" width="3.5" height="18.28" fill="#b3b3b3" stroke="#000" stroke-width="1"/>
<line x1="353.55" y1="214.46" x2="353.55" y2="211.24" stroke="#000" stroke-width="1"/>
<line x1="352.25" y1="211.24" x2="354.85" y2="211.24" stroke="#000" stroke-width="1"/>
<rect x="351.8" y="214.46" width="3.5" height="39.24" fill="#2b2b2b" stroke="#000" stroke-width="1"/>
<line x1="363.7" y1="185.97" x2="363.7" y2="184.36" stroke="#000" stroke-width="1"/>
<line x1="362.4" y1="184.36" x2="365" y2="184.36" stroke="#000" stroke-width="1"/>
<rect x="361.95" y="185.97" width="3.5" height="67.72" fill="#fff" stroke="#000" stroke-width="1"/>
<line x1="369.8" y1="217.15" x2="369.8" y2="214.46" stroke="#000" stroke-width="1"/>
<line x1="368.5" y1="214.46" x2="371.1" y2="214.46" stroke="#000" stroke-width="1"/>
<rect x="368.05" y="217.15" width="3.5" height="36.55" fill="#b3b3b3" stroke="#000" stroke-width="1"/>
<line x1="375.9" y1="182.75" x2="375.9" y2="181.14" stroke="#000" stroke-width="1"/>
<line x1="374.6" y1="181.14" x2="377.2" y2="181.14" stroke="#000" stroke-width="1"/>
<rect x="374.15" y="182.75" width="3.5" height="70.95" fill="#2b2b2b" stroke="#000" stroke-width="1"/>
<line x1="386.05" y1="220.38" x2="386.05" y2="217.69" stroke="#000" stroke-width="1"/>
<line x1="384.75" y1="217.69" x2="387.35" y2="217.69" stroke="#000" stroke-width="1"/>
<rect x="384.3" y="220.38" width="3.5" height="33.32" fill="#fff" stroke="#000" stroke-width="1"/>
<line x1="392.15" y1="231.12" x2="392.15" y2="227.9" stroke="#000" stroke-width="1"/>
<line x1="390.85" y1="227.9" x2="393.45" y2="227.9" stroke="#000" stroke-width="1"/>
<rect x="390.4" y="231.12" width="3.5" height="22.57" fill="#b3b3b3" stroke="#000" stroke-width="1"/>
<line x1="398.25" y1="208.55" x2="398.25" y2="205.32" stroke="#000" stroke-width="1"/>
<line x1="396.95" y1="205.32" x2="399.55" y2="205.32" stroke="#000" stroke-width="1"/>
<rect x="396.5" y="208.55" width="3.5" height="45.15" fill="#2b2b2b" stroke="#000" stroke-width="1"/>
<line x1="408.4" y1="181.67" x2="408.4" y2="180.06" stroke="#000" stroke-width="1"/>
<line x1="407.1" y1="180.06" x2="409.7" y2="180.06" stroke="#000" stroke-width="1"/>
<rect x="406.65" y="181.67" width="3.5" height="72.03" fill="#fff" stroke="#000" stroke-width="1"/>
<line x1="414.5" y1="215" x2="414.5" y2="213.92" stroke="#000" stroke-width="1"/>
<line x1="413.2" y1="213.92" x2="415.8" y2="213.92" stroke="#000" stroke-width="1"/>
<rect x="412.75" y="215" width="3.5" height="38.7" fill="#b3b3b3" stroke="#000" stroke-width="1"/>
<line x1="420.6" y1="174.15" x2="420.6" y2="172.54" stroke="#000" stroke-width="1"/>
<line x1="419.3" y1="172.54" x2="421.9" y2="172.54" stroke="#000" stroke-width="1"/>
<rect x="418.85" y="174.15" width="3.5" height="79.55" fill="#2b2b2b" stroke="#000" stroke-width="1"/>
<line x1="430.75" y1="215" x2="430.75" y2="211.77" stroke="#000" stroke-width="1"/>
<line x1="429.45" y1="211.77" x2="432.05" y2="211.77" stroke="#000" stroke-width="1"/>
<rect x="429" y="215" width="3.5" height="38.7" fill="#fff" stroke="#000" stroke-width="1"/>
<line x1="436.85" y1="218.76" x2="436.85" y2="216.61" stroke="#000" stroke-width="1"/>
<line x1="435.55" y1="216.61" x2="438.15" y2="216.61" stroke="#000" stroke-width="1"/>
<rect x="435.1" y="218.76" width="3.5" height="34.94" fill="#b3b3b3" stroke="#000" stroke-width="1"/>
<line x1="442.95" y1="181.14" x2="442.95" y2="176.84" stroke="#000" stroke-width="1"/>
<line x1="441.65" y1="176.84" x2="444.25" y2="176.84" stroke="#000" stroke-width="1"/>
<rect x="441.2" y="181.14" width="3.5" height="72.56" fill="#2b2b2b" stroke="#000" stroke-width="1"/>
<line x1="453.1" y1="248.32" x2="453.1" y2="247.79" stroke="#000" stroke-width="1"/>
<line x1="451.8" y1="247.79" x2="454.4" y2="247.79" stroke="#000" stroke-width="1"/>
<rect x="451.35" y="248.32" width="3.5" height="5.38" fill="#fff" stroke="#000" stroke-width="1"/>
<line x1="459.2" y1="248.86" x2="459.2" y2="248.32" stroke="#000" stroke-width="1"/>
<line x1="457.9" y1="248.32" x2="460.5" y2="248.32" stroke="#000" stroke-width="1"/>
<rect x="457.45" y="248.86" width="3.5" height="4.84" fill="#b3b3b3" stroke="#000" stroke-width="1"/>
<line x1="465.3" y1="247.25" x2="465.3" y2="245.37" stroke="#000" stroke-width="1"/>
<line x1="464" y1="245.37" x2="466.6" y2="245.37" stroke="#000" stroke-width="1"/>
<rect x="463.55" y="247.25" width="3.5" height="6.45" fill="#2b2b2b" stroke="#000" stroke-width="1"/>
<line x1="291.4" y1="145.7" x2="291.4" y2="254.2" stroke="#000" stroke-width="1.2"/>
<line x1="290.9" y1="253.7" x2="472.3" y2="253.7" stroke="#000" stroke-width="1.2"/>
<line x1="289.2" y1="253.7" x2="291.4" y2="253.7" stroke="#000" stroke-width="1.2"/>
<text x="288.3" y="255.91" font-size="8.2" text-anchor="end" stroke="#000" stroke-width="0.3">0</text>
<line x1="289.2" y1="226.82" x2="291.4" y2="226.82" stroke="#000" stroke-width="1.2"/>
<text x="288.3" y="229.04" font-size="8.2" text-anchor="end" stroke="#000" stroke-width="0.3">5</text>
<line x1="289.2" y1="199.95" x2="291.4" y2="199.95" stroke="#000" stroke-width="1.2"/>
<text x="288.3" y="202.16" font-size="8.2" text-anchor="end" stroke="#000" stroke-width="0.3">10</text>
<line x1="289.2" y1="173.07" x2="291.4" y2="173.07" stroke="#000" stroke-width="1.2"/>
<text x="288.3" y="175.29" font-size="8.2" text-anchor="end" stroke="#000" stroke-width="0.3">15</text>
<line x1="289.2" y1="146.2" x2="291.4" y2="146.2" stroke="#000" stroke-width="1.2"/>
<text x="288.3" y="148.41" font-size="8.2" text-anchor="end" stroke="#000" stroke-width="0.3">20</text>
<line x1="302.75" y1="253.7" x2="302.75" y2="255.9" stroke="#000" stroke-width="1.2"/>
<text x="304.25" y="259.7" font-size="5.6" font-weight="bold" text-anchor="end" transform="rotate(-45 304.25 259.7)" stroke="#000" stroke-width="0.2">ctr</text>
<line x1="325.1" y1="253.7" x2="325.1" y2="255.9" stroke="#000" stroke-width="1.2"/>
<text x="326.6" y="259.7" font-size="5.6" font-weight="bold" text-anchor="end" transform="rotate(-45 326.6 259.7)" stroke="#000" stroke-width="0.2">α-syn</text>
<line x1="347.45" y1="253.7" x2="347.45" y2="255.9" stroke="#000" stroke-width="1.2"/>
<text x="348.95" y="259.7" font-size="5.6" font-weight="bold" text-anchor="end" transform="rotate(-45 348.95 259.7)" stroke="#000" stroke-width="0.2">α-syn+CHPG</text>
<line x1="369.8" y1="253.7" x2="369.8" y2="255.9" stroke="#000" stroke-width="1.2"/>
<text x="371.3" y="259.7" font-size="5.6" font-weight="bold" text-anchor="end" transform="rotate(-45 371.3 259.7)" stroke="#000" stroke-width="0.2">LPS</text>
<line x1="392.15" y1="253.7" x2="392.15" y2="255.9" stroke="#000" stroke-width="1.2"/>
<text x="393.65" y="259.7" font-size="5.6" font-weight="bold" text-anchor="end" transform="rotate(-45 393.65 259.7)" stroke="#000" stroke-width="0.2">LPS+CHPG</text>
<line x1="414.5" y1="253.7" x2="414.5" y2="255.9" stroke="#000" stroke-width="1.2"/>
<text x="416" y="259.7" font-size="5.6" font-weight="bold" text-anchor="end" transform="rotate(-45 416 259.7)" stroke="#000" stroke-width="0.2">LPS+α-syn</text>
<line x1="436.85" y1="253.7" x2="436.85" y2="255.9" stroke="#000" stroke-width="1.2"/>
<text x="438.35" y="259.7" font-size="5.6" font-weight="bold" text-anchor="end" transform="rotate(-45 438.35 259.7)" stroke="#000" stroke-width="0.2">LPS+α-syn+CHPG</text>
<line x1="459.2" y1="253.7" x2="459.2" y2="255.9" stroke="#000" stroke-width="1.2"/>
<text x="460.7" y="259.7" font-size="5.6" font-weight="bold" text-anchor="end" transform="rotate(-45 460.7 259.7)" stroke="#000" stroke-width="0.2">CHPG</text>
<text x="267.6" y="201.2" font-size="8.3" text-anchor="middle" transform="rotate(-90 267.6 201.2)" stroke="#000" stroke-width="0.4">Analysis of relavant proteins</text>
<text x="275.9" y="201.2" font-size="8.3" text-anchor="middle" transform="rotate(-90 275.9 201.2)" stroke="#000" stroke-width="0.4">(fold of ctr)</text>
<path d="M319.3 172.9V169.6H341.3V172.9" fill="none" stroke="#000" stroke-width="0.9"/>
<text x="330.3" y="167.5" font-size="6.2" text-anchor="middle" stroke="#000" stroke-width="0.4">#</text>
<path d="M324.5 180.5V177.2H346.5V180.5" fill="none" stroke="#000" stroke-width="0.9"/>
<text x="335.5" y="175.1" font-size="6.2" text-anchor="middle" stroke="#000" stroke-width="0.4">##</text>
<path d="M330.4 188.5V185.2H352.8V188.5" fill="none" stroke="#000" stroke-width="0.9"/>
<text x="341.6" y="183.1" font-size="6.2" text-anchor="middle" stroke="#000" stroke-width="0.4">##</text>
<path d="M364.3 157.7V154.4H386.6V157.7" fill="none" stroke="#000" stroke-width="0.9"/>
<text x="375.45" y="152.3" font-size="6.2" text-anchor="middle" stroke="#000" stroke-width="0.4">&amp;&amp;&amp;</text>
<path d="M369.7 165.6V162.3H392V165.6" fill="none" stroke="#000" stroke-width="0.9"/>
<text x="380.85" y="160.2" font-size="6.2" text-anchor="middle" stroke="#000" stroke-width="0.4">&amp;&amp;&amp;</text>
<path d="M376.1 175V171.7H398.1V175" fill="none" stroke="#000" stroke-width="0.9"/>
<text x="387.1" y="169.6" font-size="6.2" text-anchor="middle" stroke="#000" stroke-width="0.4">&amp;&amp;&amp;</text>
<path d="M409.4 149.3V146H431.7V149.3" fill="none" stroke="#000" stroke-width="0.9"/>
<text x="420.55" y="143.9" font-size="6.2" text-anchor="middle" stroke="#000" stroke-width="0.4">$$$</text>
<path d="M415.3 157.3V154H437V157.3" fill="none" stroke="#000" stroke-width="0.9"/>
<text x="426.15" y="151.9" font-size="6.2" text-anchor="middle" stroke="#000" stroke-width="0.4">ns</text>
<path d="M421.3 165.8V162.5H442.9V165.8" fill="none" stroke="#000" stroke-width="0.9"/>
<text x="432.1" y="160.4" font-size="6.2" text-anchor="middle" stroke="#000" stroke-width="0.4">ns</text>
<text x="317.5" y="215.63" font-size="6.4" font-weight="bold" text-anchor="middle" stroke="#000" stroke-width="0.4">***</text>
<text x="323.5" y="222.33" font-size="6.4" font-weight="bold" text-anchor="middle" stroke="#000" stroke-width="0.4">***</text>
<text x="331.4" y="193.73" font-size="6.4" font-weight="bold" text-anchor="middle" stroke="#000" stroke-width="0.4">***</text>
<text x="362.5" y="185.13" font-size="6.4" font-weight="bold" text-anchor="middle" stroke="#000" stroke-width="0.4">***</text>
<text x="368" y="215.33" font-size="6.4" font-weight="bold" text-anchor="middle" stroke="#000" stroke-width="0.4">***</text>
<text x="376.2" y="181.33" font-size="6.4" font-weight="bold" text-anchor="middle" stroke="#000" stroke-width="0.4">***</text>
<text x="407.5" y="180.63" font-size="6.4" font-weight="bold" text-anchor="middle" stroke="#000" stroke-width="0.4">***</text>
<text x="413" y="214.03" font-size="6.4" font-weight="bold" text-anchor="middle" stroke="#000" stroke-width="0.4">***</text>
<text x="420.9" y="171.03" font-size="6.4" font-weight="bold" text-anchor="middle" stroke="#000" stroke-width="0.4">***</text>
<rect x="457.3" y="143.7" width="9.2" height="4.7" fill="#fff" stroke="#000" stroke-width="0.9"/>
<text x="469.4" y="148.14" font-size="6.38" stroke="#000" stroke-width="0.3">iNOS</text>
<rect x="457.3" y="153.2" width="9.2" height="4.7" fill="#b3b3b3" stroke="#000" stroke-width="0.9"/>
<text x="469.4" y="157.64" font-size="6.38" stroke="#000" stroke-width="0.3">COX-2</text>
<rect x="457.3" y="162.3" width="9.2" height="4.7" fill="#2b2b2b" stroke="#000" stroke-width="0.9"/>
<text x="469.4" y="166.74" font-size="6.38" stroke="#000" stroke-width="0.3">TNF-α</text>
<text x="265.8" y="127.2" font-size="16.5" font-weight="bold" stroke="#000" stroke-width="0.45">d</text>
<line x1="549.6" y1="246.32" x2="549.6" y2="245.97" stroke="#000" stroke-width="1"/>
<line x1="548.3" y1="245.97" x2="550.9" y2="245.97" stroke="#000" stroke-width="1"/>
<rect x="547.9" y="246.32" width="3.4" height="7.38" fill="#fff" stroke="#000" stroke-width="1"/>
<line x1="554.8" y1="246.11" x2="554.8" y2="245.76" stroke="#000" stroke-width="1"/>
<line x1="553.5" y1="245.76" x2="556.1" y2="245.76" stroke="#000" stroke-width="1"/>
<rect x="553.1" y="246.11" width="3.4" height="7.59" fill="#4f4f4f" stroke="#000" stroke-width="1"/>
<line x1="563.87" y1="199.88" x2="563.87" y2="197.81" stroke="#000" stroke-width="1"/>
<line x1="562.57" y1="197.81" x2="565.17" y2="197.81" stroke="#000" stroke-width="1"/>
<rect x="562.17" y="199.88" width="3.4" height="53.82" fill="#fff" stroke="#000" stroke-width="1"/>
<line x1="569.07" y1="217.13" x2="569.07" y2="212.99" stroke="#000" stroke-width="1"/>
<line x1="567.77" y1="212.99" x2="570.37" y2="212.99" stroke="#000" stroke-width="1"/>
<rect x="567.37" y="217.13" width="3.4" height="36.57" fill="#4f4f4f" stroke="#000" stroke-width="1"/>
<line x1="578.14" y1="229.55" x2="578.14" y2="224.72" stroke="#000" stroke-width="1"/>
<line x1="576.84" y1="224.72" x2="579.44" y2="224.72" stroke="#000" stroke-width="1"/>
<rect x="576.44" y="229.55" width="3.4" height="24.15" fill="#fff" stroke="#000" stroke-width="1"/>
<line x1="583.34" y1="229.55" x2="583.34" y2="227.13" stroke="#000" stroke-width="1"/>
<line x1="582.04" y1="227.13" x2="584.64" y2="227.13" stroke="#000" stroke-width="1"/>
<rect x="581.64" y="229.55" width="3.4" height="24.15" fill="#4f4f4f" stroke="#000" stroke-width="1"/>
<line x1="592.41" y1="176.42" x2="592.41" y2="174.35" stroke="#000" stroke-width="1"/>
<line x1="591.11" y1="174.35" x2="593.71" y2="174.35" stroke="#000" stroke-width="1"/>
<rect x="590.71" y="176.42" width="3.4" height="77.28" fill="#fff" stroke="#000" stroke-width="1"/>
<line x1="597.61" y1="201.95" x2="597.61" y2="197.81" stroke="#000" stroke-width="1"/>
<line x1="596.31" y1="197.81" x2="598.91" y2="197.81" stroke="#000" stroke-width="1"/>
<rect x="595.91" y="201.95" width="3.4" height="51.75" fill="#4f4f4f" stroke="#000" stroke-width="1"/>
<line x1="606.68" y1="212.99" x2="606.68" y2="209.88" stroke="#000" stroke-width="1"/>
<line x1="605.38" y1="209.88" x2="607.98" y2="209.88" stroke="#000" stroke-width="1"/>
<rect x="604.98" y="212.99" width="3.4" height="40.71" fill="#fff" stroke="#000" stroke-width="1"/>
<line x1="611.88" y1="221.96" x2="611.88" y2="219.2" stroke="#000" stroke-width="1"/>
<line x1="610.58" y1="219.2" x2="613.18" y2="219.2" stroke="#000" stroke-width="1"/>
<rect x="610.18" y="221.96" width="3.4" height="31.74" fill="#4f4f4f" stroke="#000" stroke-width="1"/>
<line x1="620.95" y1="169.52" x2="620.95" y2="166.76" stroke="#000" stroke-width="1"/>
<line x1="619.65" y1="166.76" x2="622.25" y2="166.76" stroke="#000" stroke-width="1"/>
<rect x="619.25" y="169.52" width="3.4" height="84.18" fill="#fff" stroke="#000" stroke-width="1"/>
<line x1="626.15" y1="192.98" x2="626.15" y2="192.29" stroke="#000" stroke-width="1"/>
<line x1="624.85" y1="192.29" x2="627.45" y2="192.29" stroke="#000" stroke-width="1"/>
<rect x="624.45" y="192.98" width="3.4" height="60.72" fill="#4f4f4f" stroke="#000" stroke-width="1"/>
<line x1="635.22" y1="177.8" x2="635.22" y2="173.31" stroke="#000" stroke-width="1"/>
<line x1="633.92" y1="173.31" x2="636.52" y2="173.31" stroke="#000" stroke-width="1"/>
<rect x="633.52" y="177.8" width="3.4" height="75.9" fill="#fff" stroke="#000" stroke-width="1"/>
<line x1="640.42" y1="201.95" x2="640.42" y2="199.19" stroke="#000" stroke-width="1"/>
<line x1="639.12" y1="199.19" x2="641.72" y2="199.19" stroke="#000" stroke-width="1"/>
<rect x="638.72" y="201.95" width="3.4" height="51.75" fill="#4f4f4f" stroke="#000" stroke-width="1"/>
<line x1="649.49" y1="246.11" x2="649.49" y2="245.76" stroke="#000" stroke-width="1"/>
<line x1="648.19" y1="245.76" x2="650.79" y2="245.76" stroke="#000" stroke-width="1"/>
<rect x="647.79" y="246.11" width="3.4" height="7.59" fill="#fff" stroke="#000" stroke-width="1"/>
<line x1="654.69" y1="246.45" x2="654.69" y2="246.11" stroke="#000" stroke-width="1"/>
<line x1="653.39" y1="246.11" x2="655.99" y2="246.11" stroke="#000" stroke-width="1"/>
<rect x="652.99" y="246.45" width="3.4" height="7.25" fill="#4f4f4f" stroke="#000" stroke-width="1"/>
<line x1="544.4" y1="149.7" x2="544.4" y2="254.2" stroke="#000" stroke-width="1.2"/>
<line x1="543.9" y1="253.7" x2="660.5" y2="253.7" stroke="#000" stroke-width="1.2"/>
<line x1="542.2" y1="253.7" x2="544.4" y2="253.7" stroke="#000" stroke-width="1.2"/>
<text x="541.3" y="255.91" font-size="8.2" text-anchor="end" stroke="#000" stroke-width="0.3">0</text>
<line x1="542.2" y1="219.2" x2="544.4" y2="219.2" stroke="#000" stroke-width="1.2"/>
<text x="541.3" y="221.41" font-size="8.2" text-anchor="end" stroke="#000" stroke-width="0.3">5</text>
<line x1="542.2" y1="184.7" x2="544.4" y2="184.7" stroke="#000" stroke-width="1.2"/>
<text x="541.3" y="186.91" font-size="8.2" text-anchor="end" stroke="#000" stroke-width="0.3">10</text>
<line x1="542.2" y1="150.2" x2="544.4" y2="150.2" stroke="#000" stroke-width="1.2"/>
<text x="541.3" y="152.41" font-size="8.2" text-anchor="end" stroke="#000" stroke-width="0.3">15</text>
<line x1="552.2" y1="253.7" x2="552.2" y2="255.9" stroke="#000" stroke-width="1.2"/>
<text x="553.7" y="259.7" font-size="5.6" font-weight="bold" text-anchor="end" transform="rotate(-45 553.7 259.7)" stroke="#000" stroke-width="0.2">ctr</text>
<line x1="566.47" y1="253.7" x2="566.47" y2="255.9" stroke="#000" stroke-width="1.2"/>
<text x="567.97" y="259.7" font-size="5.6" font-weight="bold" text-anchor="end" transform="rotate(-45 567.97 259.7)" stroke="#000" stroke-width="0.2">α-syn</text>
<line x1="580.74" y1="253.7" x2="580.74" y2="255.9" stroke="#000" stroke-width="1.2"/>
<text x="582.24" y="259.7" font-size="5.6" font-weight="bold" text-anchor="end" transform="rotate(-45 582.24 259.7)" stroke="#000" stroke-width="0.2">α-syn+CHPG</text>
<line x1="595.01" y1="253.7" x2="595.01" y2="255.9" stroke="#000" stroke-width="1.2"/>
<text x="596.51" y="259.7" font-size="5.6" font-weight="bold" text-anchor="end" transform="rotate(-45 596.51 259.7)" stroke="#000" stroke-width="0.2">LPS</text>
<line x1="609.28" y1="253.7" x2="609.28" y2="255.9" stroke="#000" stroke-width="1.2"/>
<text x="610.78" y="259.7" font-size="5.6" font-weight="bold" text-anchor="end" transform="rotate(-45 610.78 259.7)" stroke="#000" stroke-width="0.2">LPS+CHPG</text>
<line x1="623.55" y1="253.7" x2="623.55" y2="255.9" stroke="#000" stroke-width="1.2"/>
<text x="625.05" y="259.7" font-size="5.6" font-weight="bold" text-anchor="end" transform="rotate(-45 625.05 259.7)" stroke="#000" stroke-width="0.2">LPS+α-syn</text>
<line x1="637.82" y1="253.7" x2="637.82" y2="255.9" stroke="#000" stroke-width="1.2"/>
<text x="639.32" y="259.7" font-size="5.6" font-weight="bold" text-anchor="end" transform="rotate(-45 639.32 259.7)" stroke="#000" stroke-width="0.2">LPS+α-syn+CHPG</text>
<line x1="652.09" y1="253.7" x2="652.09" y2="255.9" stroke="#000" stroke-width="1.2"/>
<text x="653.59" y="259.7" font-size="5.6" font-weight="bold" text-anchor="end" transform="rotate(-45 653.59 259.7)" stroke="#000" stroke-width="0.2">CHPG</text>
<text x="522.1" y="203.8" font-size="8.3" text-anchor="middle" transform="rotate(-90 522.1 203.8)" stroke="#000" stroke-width="0.4">Analysis of relevant signalings</text>
<text x="530.4" y="203.8" font-size="8.3" text-anchor="middle" transform="rotate(-90 530.4 203.8)" stroke="#000" stroke-width="0.4">(fold of ctr)</text>
<path d="M563.6 193.7V190.4H577.7V193.7" fill="none" stroke="#000" stroke-width="0.9"/>
<text x="570.65" y="188.3" font-size="6.2" text-anchor="middle" stroke="#000" stroke-width="0.4">###</text>
<path d="M569.4 209.3V206H583.5V209.3" fill="none" stroke="#000" stroke-width="0.9"/>
<text x="576.45" y="203.9" font-size="6.2" text-anchor="middle" stroke="#000" stroke-width="0.4">##</text>
<path d="M592.3 169V165.7H606.1V169" fill="none" stroke="#000" stroke-width="0.9"/>
<text x="599.2" y="163.6" font-size="6.2" text-anchor="middle" stroke="#000" stroke-width="0.4">&amp;&amp;&amp;</text>
<path d="M598.8 192.8V189.5H612.5V192.8" fill="none" stroke="#000" stroke-width="0.9"/>
<text x="605.65" y="187.4" font-size="6.2" text-anchor="middle" stroke="#000" stroke-width="0.4">&amp;&amp;&amp;</text>
<path d="M620.4 161.3V158H635.4V161.3" fill="none" stroke="#000" stroke-width="0.9"/>
<text x="627.9" y="155.9" font-size="6.2" text-anchor="middle" stroke="#000" stroke-width="0.4">ns</text>
<path d="M626.3 172.6V169.3H640.9V172.6" fill="none" stroke="#000" stroke-width="0.9"/>
<text x="633.6" y="167.2" font-size="6.2" text-anchor="middle" stroke="#000" stroke-width="0.4">ns</text>
<text x="563.3" y="198.73" font-size="6.4" font-weight="bold" text-anchor="middle" stroke="#000" stroke-width="0.4">***</text>
<text x="569.5" y="214.83" font-size="6.4" font-weight="bold" text-anchor="middle" stroke="#000" stroke-width="0.4">***</text>
<text x="592.3" y="174.53" font-size="6.4" font-weight="bold" text-anchor="middle" stroke="#000" stroke-width="0.4">***</text>
<text x="597.6" y="198.93" font-size="6.4" font-weight="bold" text-anchor="middle" stroke="#000" stroke-width="0.4">***</text>
<text x="620.9" y="166.83" font-size="6.4" font-weight="bold" text-anchor="middle" stroke="#000" stroke-width="0.4">***</text>
<text x="626.3" y="192.43" font-size="6.4" font-weight="bold" text-anchor="middle" stroke="#000" stroke-width="0.4">***</text>
<rect x="660" y="146.2" width="9.7" height="5" fill="#fff" stroke="#000" stroke-width="0.9"/>
<text x="671.2" y="150.77" font-size="6.33" stroke="#000" stroke-width="0.3">p-p38</text>
<rect x="660" y="156.1" width="9.7" height="5" fill="#4f4f4f" stroke="#000" stroke-width="0.9"/>
<text x="671.2" y="160.67" font-size="6.33" stroke="#000" stroke-width="0.3">p-NFκB p65</text>
<text x="501" y="127.3" font-size="16.5" font-weight="bold" stroke="#000" stroke-width="0.45">e</text>
<line x1="118.35" y1="376.93" x2="118.35" y2="375.45" stroke="#000" stroke-width="1"/>
<line x1="115.56" y1="375.45" x2="121.14" y2="375.45" stroke="#000" stroke-width="1"/>
<rect x="114.33" y="376.93" width="8.05" height="6.27" fill="#fff" stroke="#000" stroke-width="1.25"/>
<line x1="132.18" y1="348.51" x2="132.18" y2="345.56" stroke="#000" stroke-width="1"/>
<line x1="129.39" y1="345.56" x2="134.97" y2="345.56" stroke="#000" stroke-width="1"/>
<rect x="128.16" y="348.51" width="8.05" height="34.69" fill="#b8b8b8" stroke="#000" stroke-width="1.25"/>
<line x1="146.01" y1="364.38" x2="146.01" y2="363.27" stroke="#000" stroke-width="1"/>
<line x1="143.22" y1="363.27" x2="148.8" y2="363.27" stroke="#000" stroke-width="1"/>
<rect x="141.99" y="364.38" width="8.05" height="18.82" fill="#fff" stroke="#000" stroke-width="1.25"/>
<line x1="159.84" y1="326.74" x2="159.84" y2="322.68" stroke="#000" stroke-width="1"/>
<line x1="157.05" y1="322.68" x2="162.63" y2="322.68" stroke="#000" stroke-width="1"/>
<rect x="155.81" y="326.74" width="8.05" height="56.46" fill="#4b4b4b" stroke="#000" stroke-width="1.25"/>
<line x1="173.67" y1="349.99" x2="173.67" y2="345.93" stroke="#000" stroke-width="1"/>
<line x1="170.88" y1="345.93" x2="176.46" y2="345.93" stroke="#000" stroke-width="1"/>
<rect x="169.65" y="349.99" width="8.05" height="33.21" fill="#fff" stroke="#000" stroke-width="1.25"/>
<line x1="187.5" y1="321.21" x2="187.5" y2="317.52" stroke="#000" stroke-width="1"/>
<line x1="184.71" y1="317.52" x2="190.29" y2="317.52" stroke="#000" stroke-width="1"/>
<rect x="183.48" y="321.21" width="8.05" height="61.99" fill="#131313" stroke="#000" stroke-width="1.25"/>
<line x1="201.33" y1="337.07" x2="201.33" y2="334.49" stroke="#000" stroke-width="1"/>
<line x1="198.54" y1="334.49" x2="204.12" y2="334.49" stroke="#000" stroke-width="1"/>
<rect x="197.31" y="337.07" width="8.05" height="46.12" fill="#fff" stroke="#000" stroke-width="1.25"/>
<line x1="215.16" y1="376.93" x2="215.16" y2="375.45" stroke="#000" stroke-width="1"/>
<line x1="212.37" y1="375.45" x2="217.95" y2="375.45" stroke="#000" stroke-width="1"/>
<rect x="211.13" y="376.93" width="8.05" height="6.27" fill="#fff" stroke="#000" stroke-width="1.25"/>
<line x1="111.3" y1="308.9" x2="111.3" y2="383.7" stroke="#000" stroke-width="1.2"/>
<line x1="110.8" y1="383.2" x2="223" y2="383.2" stroke="#000" stroke-width="1.2"/>
<line x1="109" y1="383.2" x2="111.3" y2="383.2" stroke="#000" stroke-width="1.2"/>
<text x="106.6" y="385.74" font-size="9.4" text-anchor="end" stroke="#000" stroke-width="0.3">0</text>
<line x1="109" y1="364.75" x2="111.3" y2="364.75" stroke="#000" stroke-width="1.2"/>
<text x="106.6" y="367.29" font-size="9.4" text-anchor="end" stroke="#000" stroke-width="0.3">5</text>
<line x1="109" y1="346.3" x2="111.3" y2="346.3" stroke="#000" stroke-width="1.2"/>
<text x="106.6" y="348.84" font-size="9.4" text-anchor="end" stroke="#000" stroke-width="0.3">10</text>
<line x1="109" y1="327.85" x2="111.3" y2="327.85" stroke="#000" stroke-width="1.2"/>
<text x="106.6" y="330.39" font-size="9.4" text-anchor="end" stroke="#000" stroke-width="0.3">15</text>
<line x1="109" y1="309.4" x2="111.3" y2="309.4" stroke="#000" stroke-width="1.2"/>
<text x="106.6" y="311.94" font-size="9.4" text-anchor="end" stroke="#000" stroke-width="0.3">20</text>
<line x1="118.35" y1="383.2" x2="118.35" y2="385.5" stroke="#000" stroke-width="1.2"/>
<text x="121.55" y="390.9" font-size="7.2" font-weight="bold" text-anchor="end" transform="rotate(-45 121.55 390.9)" stroke="#000" stroke-width="0.25">ctr</text>
<line x1="132.18" y1="383.2" x2="132.18" y2="385.5" stroke="#000" stroke-width="1.2"/>
<text x="135.38" y="390.9" font-size="7.2" font-weight="bold" text-anchor="end" transform="rotate(-45 135.38 390.9)" stroke="#000" stroke-width="0.25">α-syn</text>
<line x1="146.01" y1="383.2" x2="146.01" y2="385.5" stroke="#000" stroke-width="1.2"/>
<text x="149.21" y="390.9" font-size="7.2" font-weight="bold" text-anchor="end" transform="rotate(-45 149.21 390.9)" stroke="#000" stroke-width="0.25">α-syn+CHPG</text>
<line x1="159.84" y1="383.2" x2="159.84" y2="385.5" stroke="#000" stroke-width="1.2"/>
<text x="163.04" y="390.9" font-size="7.2" font-weight="bold" text-anchor="end" transform="rotate(-45 163.04 390.9)" stroke="#000" stroke-width="0.25">LPS</text>
<line x1="173.67" y1="383.2" x2="173.67" y2="385.5" stroke="#000" stroke-width="1.2"/>
<text x="176.87" y="390.9" font-size="7.2" font-weight="bold" text-anchor="end" transform="rotate(-45 176.87 390.9)" stroke="#000" stroke-width="0.25">LPS+CHPG</text>
<line x1="187.5" y1="383.2" x2="187.5" y2="385.5" stroke="#000" stroke-width="1.2"/>
<text x="190.7" y="390.9" font-size="7.2" font-weight="bold" text-anchor="end" transform="rotate(-45 190.7 390.9)" stroke="#000" stroke-width="0.25">LPS+α-syn</text>
<line x1="201.33" y1="383.2" x2="201.33" y2="385.5" stroke="#000" stroke-width="1.2"/>
<text x="204.53" y="390.9" font-size="7.2" font-weight="bold" text-anchor="end" transform="rotate(-45 204.53 390.9)" stroke="#000" stroke-width="0.25">LPS+α-syn+CHPG</text>
<line x1="215.16" y1="383.2" x2="215.16" y2="385.5" stroke="#000" stroke-width="1.2"/>
<text x="218.36" y="390.9" font-size="7.2" font-weight="bold" text-anchor="end" transform="rotate(-45 218.36 390.9)" stroke="#000" stroke-width="0.25">CHPG</text>
<text x="92.5" y="347.4" font-size="9.2" text-anchor="middle" transform="rotate(-90 92.5 347.4)" stroke="#000" stroke-width="0.4">Supernatant Nitrite (μM)</text>
<path d="M132.2 338.7V335.4H145.6V338.7" fill="none" stroke="#000" stroke-width="0.9"/>
<text x="138.9" y="333.3" font-size="6.4" text-anchor="middle" stroke="#000" stroke-width="0.4">###</text>
<path d="M159.8 314.4V311.1H173.2V314.4" fill="none" stroke="#000" stroke-width="0.9"/>
<text x="166.5" y="309" font-size="6.4" text-anchor="middle" stroke="#000" stroke-width="0.4">&amp;&amp;&amp;</text>
<path d="M187.3 309.5V306.2H201.2V309.5" fill="none" stroke="#000" stroke-width="0.9"/>
<text x="194.25" y="304.1" font-size="6.4" text-anchor="middle" stroke="#000" stroke-width="0.4">$$$</text>
<text x="132.2" y="344.92" font-size="8.5" font-weight="bold" text-anchor="middle" stroke="#000" stroke-width="0.55">***</text>
<text x="159.8" y="321.82" font-size="8.5" font-weight="bold" text-anchor="middle" stroke="#000" stroke-width="0.55">***</text>
<text x="187.3" y="316.92" font-size="8.5" font-weight="bold" text-anchor="middle" stroke="#000" stroke-width="0.55">***</text>
<text x="54.6" y="310.5" font-size="16.5" font-weight="bold" stroke="#000" stroke-width="0.45">f</text>
<line x1="329.5" y1="381.24" x2="329.5" y2="380.26" stroke="#000" stroke-width="1"/>
<line x1="326.62" y1="380.26" x2="332.38" y2="380.26" stroke="#000" stroke-width="1"/>
<rect x="325.32" y="381.24" width="8.35" height="2.96" fill="#fff" stroke="#000" stroke-width="1.25"/>
<line x1="343.37" y1="338.87" x2="343.37" y2="337.4" stroke="#000" stroke-width="1"/>
<line x1="340.49" y1="337.4" x2="346.25" y2="337.4" stroke="#000" stroke-width="1"/>
<rect x="339.19" y="338.87" width="8.35" height="45.33" fill="#b8b8b8" stroke="#000" stroke-width="1.25"/>
<line x1="357.24" y1="349.71" x2="357.24" y2="348.24" stroke="#000" stroke-width="1"/>
<line x1="354.36" y1="348.24" x2="360.12" y2="348.24" stroke="#000" stroke-width="1"/>
<rect x="353.06" y="349.71" width="8.35" height="34.49" fill="#fff" stroke="#000" stroke-width="1.25"/>
<line x1="371.11" y1="324.59" x2="371.11" y2="320.65" stroke="#000" stroke-width="1"/>
<line x1="368.23" y1="320.65" x2="373.99" y2="320.65" stroke="#000" stroke-width="1"/>
<rect x="366.94" y="324.59" width="8.35" height="59.61" fill="#4b4b4b" stroke="#000" stroke-width="1.25"/>
<line x1="384.98" y1="344.05" x2="384.98" y2="343.31" stroke="#000" stroke-width="1"/>
<line x1="382.1" y1="343.31" x2="387.86" y2="343.31" stroke="#000" stroke-width="1"/>
<rect x="380.81" y="344.05" width="8.35" height="40.15" fill="#fff" stroke="#000" stroke-width="1.25"/>
<line x1="398.85" y1="318.68" x2="398.85" y2="316.21" stroke="#000" stroke-width="1"/>
<line x1="395.97" y1="316.21" x2="401.73" y2="316.21" stroke="#000" stroke-width="1"/>
<rect x="394.67" y="318.68" width="8.35" height="65.52" fill="#131313" stroke="#000" stroke-width="1.25"/>
<line x1="412.72" y1="321.63" x2="412.72" y2="318.43" stroke="#000" stroke-width="1"/>
<line x1="409.84" y1="318.43" x2="415.6" y2="318.43" stroke="#000" stroke-width="1"/>
<rect x="408.54" y="321.63" width="8.35" height="62.57" fill="#fff" stroke="#000" stroke-width="1.25"/>
<line x1="426.59" y1="381.24" x2="426.59" y2="380.5" stroke="#000" stroke-width="1"/>
<line x1="423.71" y1="380.5" x2="429.47" y2="380.5" stroke="#000" stroke-width="1"/>
<rect x="422.41" y="381.24" width="8.35" height="2.96" fill="#fff" stroke="#000" stroke-width="1.25"/>
<line x1="322.3" y1="309.8" x2="322.3" y2="384.7" stroke="#000" stroke-width="1.2"/>
<line x1="321.8" y1="384.2" x2="435" y2="384.2" stroke="#000" stroke-width="1.2"/>
<line x1="320" y1="384.2" x2="322.3" y2="384.2" stroke="#000" stroke-width="1.2"/>
<text x="317.6" y="386.74" font-size="9.4" text-anchor="end" stroke="#000" stroke-width="0.3">0</text>
<line x1="320" y1="359.57" x2="322.3" y2="359.57" stroke="#000" stroke-width="1.2"/>
<text x="317.6" y="362.1" font-size="9.4" text-anchor="end" stroke="#000" stroke-width="0.3">500</text>
<line x1="320" y1="334.93" x2="322.3" y2="334.93" stroke="#000" stroke-width="1.2"/>
<text x="317.6" y="337.47" font-size="9.4" text-anchor="end" stroke="#000" stroke-width="0.3">1000</text>
<line x1="320" y1="310.3" x2="322.3" y2="310.3" stroke="#000" stroke-width="1.2"/>
<text x="317.6" y="312.84" font-size="9.4" text-anchor="end" stroke="#000" stroke-width="0.3">1500</text>
<line x1="329.5" y1="384.2" x2="329.5" y2="386.5" stroke="#000" stroke-width="1.2"/>
<text x="332.7" y="391.9" font-size="7.2" font-weight="bold" text-anchor="end" transform="rotate(-45 332.7 391.9)" stroke="#000" stroke-width="0.25">ctr</text>
<line x1="343.37" y1="384.2" x2="343.37" y2="386.5" stroke="#000" stroke-width="1.2"/>
<text x="346.57" y="391.9" font-size="7.2" font-weight="bold" text-anchor="end" transform="rotate(-45 346.57 391.9)" stroke="#000" stroke-width="0.25">α-syn</text>
<line x1="357.24" y1="384.2" x2="357.24" y2="386.5" stroke="#000" stroke-width="1.2"/>
<text x="360.44" y="391.9" font-size="7.2" font-weight="bold" text-anchor="end" transform="rotate(-45 360.44 391.9)" stroke="#000" stroke-width="0.25">α-syn+CHPG</text>
<line x1="371.11" y1="384.2" x2="371.11" y2="386.5" stroke="#000" stroke-width="1.2"/>
<text x="374.31" y="391.9" font-size="7.2" font-weight="bold" text-anchor="end" transform="rotate(-45 374.31 391.9)" stroke="#000" stroke-width="0.25">LPS</text>
<line x1="384.98" y1="384.2" x2="384.98" y2="386.5" stroke="#000" stroke-width="1.2"/>
<text x="388.18" y="391.9" font-size="7.2" font-weight="bold" text-anchor="end" transform="rotate(-45 388.18 391.9)" stroke="#000" stroke-width="0.25">LPS+CHPG</text>
<line x1="398.85" y1="384.2" x2="398.85" y2="386.5" stroke="#000" stroke-width="1.2"/>
<text x="402.05" y="391.9" font-size="7.2" font-weight="bold" text-anchor="end" transform="rotate(-45 402.05 391.9)" stroke="#000" stroke-width="0.25">LPS+α-syn</text>
<line x1="412.72" y1="384.2" x2="412.72" y2="386.5" stroke="#000" stroke-width="1.2"/>
<text x="415.92" y="391.9" font-size="7.2" font-weight="bold" text-anchor="end" transform="rotate(-45 415.92 391.9)" stroke="#000" stroke-width="0.25">LPS+α-syn+CHPG</text>
<line x1="426.59" y1="384.2" x2="426.59" y2="386.5" stroke="#000" stroke-width="1.2"/>
<text x="429.79" y="391.9" font-size="7.2" font-weight="bold" text-anchor="end" transform="rotate(-45 429.79 391.9)" stroke="#000" stroke-width="0.25">CHPG</text>
<text x="295.7" y="345.9" font-size="9.2" text-anchor="middle" transform="rotate(-90 295.7 345.9)" stroke="#000" stroke-width="0.4">Supernatant PGE<tspan font-size="5.6" dy="2.2">2</tspan><tspan dy="-2.2"> (pg/mL)</tspan></text>
<path d="M343.4 330.4V327.1H357.9V330.4" fill="none" stroke="#000" stroke-width="0.9"/>
<text x="350.65" y="325" font-size="6.4" text-anchor="middle" stroke="#000" stroke-width="0.4">###</text>
<path d="M371.2 313V309.7H385V313" fill="none" stroke="#000" stroke-width="0.9"/>
<text x="378.1" y="307.6" font-size="6.4" text-anchor="middle" stroke="#000" stroke-width="0.4">&amp;&amp;&amp;</text>
<path d="M399 308.1V304.8H412.8V308.1" fill="none" stroke="#000" stroke-width="0.9"/>
<text x="405.9" y="302.7" font-size="6.4" text-anchor="middle" stroke="#000" stroke-width="0.4">ns</text>
<text x="343.7" y="337.02" font-size="8.5" font-weight="bold" text-anchor="middle" stroke="#000" stroke-width="0.55">***</text>
<text x="371.2" y="319.92" font-size="8.5" font-weight="bold" text-anchor="middle" stroke="#000" stroke-width="0.55">***</text>
<text x="399" y="314.92" font-size="8.5" font-weight="bold" text-anchor="middle" stroke="#000" stroke-width="0.55">***</text>
<text x="265.8" y="305.6" font-size="16.5" font-weight="bold" stroke="#000" stroke-width="0.45">g</text>
<line x1="566.6" y1="381.33" x2="566.6" y2="380.74" stroke="#000" stroke-width="1"/>
<line x1="563.66" y1="380.74" x2="569.54" y2="380.74" stroke="#000" stroke-width="1"/>
<rect x="562.33" y="381.33" width="8.55" height="1.47" fill="#fff" stroke="#000" stroke-width="1.25"/>
<line x1="580.43" y1="356.38" x2="580.43" y2="353.44" stroke="#000" stroke-width="1"/>
<line x1="577.49" y1="353.44" x2="583.37" y2="353.44" stroke="#000" stroke-width="1"/>
<rect x="576.16" y="356.38" width="8.55" height="26.42" fill="#b8b8b8" stroke="#000" stroke-width="1.25"/>
<line x1="594.26" y1="368.85" x2="594.26" y2="364.45" stroke="#000" stroke-width="1"/>
<line x1="591.32" y1="364.45" x2="597.2" y2="364.45" stroke="#000" stroke-width="1"/>
<rect x="589.99" y="368.85" width="8.55" height="13.95" fill="#fff" stroke="#000" stroke-width="1.25"/>
<line x1="608.09" y1="333.62" x2="608.09" y2="330.69" stroke="#000" stroke-width="1"/>
<line x1="605.15" y1="330.69" x2="611.03" y2="330.69" stroke="#000" stroke-width="1"/>
<rect x="603.82" y="333.62" width="8.55" height="49.18" fill="#4b4b4b" stroke="#000" stroke-width="1.25"/>
<line x1="621.92" y1="360.41" x2="621.92" y2="357.11" stroke="#000" stroke-width="1"/>
<line x1="618.98" y1="357.11" x2="624.86" y2="357.11" stroke="#000" stroke-width="1"/>
<rect x="617.65" y="360.41" width="8.55" height="22.39" fill="#fff" stroke="#000" stroke-width="1.25"/>
<line x1="635.75" y1="319.68" x2="635.75" y2="315.27" stroke="#000" stroke-width="1"/>
<line x1="632.81" y1="315.27" x2="638.69" y2="315.27" stroke="#000" stroke-width="1"/>
<rect x="631.48" y="319.68" width="8.55" height="63.12" fill="#131313" stroke="#000" stroke-width="1.25"/>
<line x1="649.58" y1="321.14" x2="649.58" y2="318.94" stroke="#000" stroke-width="1"/>
<line x1="646.64" y1="318.94" x2="652.52" y2="318.94" stroke="#000" stroke-width="1"/>
<rect x="645.31" y="321.14" width="8.55" height="61.66" fill="#fff" stroke="#000" stroke-width="1.25"/>
<line x1="663.41" y1="381.33" x2="663.41" y2="380.74" stroke="#000" stroke-width="1"/>
<line x1="660.47" y1="380.74" x2="666.35" y2="380.74" stroke="#000" stroke-width="1"/>
<rect x="659.13" y="381.33" width="8.55" height="1.47" fill="#fff" stroke="#000" stroke-width="1.25"/>
<line x1="559.9" y1="308.9" x2="559.9" y2="383.3" stroke="#000" stroke-width="1.2"/>
<line x1="559.4" y1="382.8" x2="672" y2="382.8" stroke="#000" stroke-width="1.2"/>
<line x1="557.6" y1="382.8" x2="559.9" y2="382.8" stroke="#000" stroke-width="1.2"/>
<text x="555.2" y="385.26" font-size="9.1" text-anchor="end" stroke="#000" stroke-width="0.3">0</text>
<line x1="557.6" y1="368.12" x2="559.9" y2="368.12" stroke="#000" stroke-width="1.2"/>
<text x="555.2" y="370.58" font-size="9.1" text-anchor="end" stroke="#000" stroke-width="0.3">2000</text>
<line x1="557.6" y1="353.44" x2="559.9" y2="353.44" stroke="#000" stroke-width="1.2"/>
<text x="555.2" y="355.9" font-size="9.1" text-anchor="end" stroke="#000" stroke-width="0.3">4000</text>
<line x1="557.6" y1="338.76" x2="559.9" y2="338.76" stroke="#000" stroke-width="1.2"/>
<text x="555.2" y="341.22" font-size="9.1" text-anchor="end" stroke="#000" stroke-width="0.3">6000</text>
<line x1="557.6" y1="324.08" x2="559.9" y2="324.08" stroke="#000" stroke-width="1.2"/>
<text x="555.2" y="326.54" font-size="9.1" text-anchor="end" stroke="#000" stroke-width="0.3">8000</text>
<line x1="557.6" y1="309.4" x2="559.9" y2="309.4" stroke="#000" stroke-width="1.2"/>
<text x="555.2" y="311.86" font-size="9.1" text-anchor="end" stroke="#000" stroke-width="0.3">10000</text>
<line x1="566.6" y1="382.8" x2="566.6" y2="385.1" stroke="#000" stroke-width="1.2"/>
<text x="569.8" y="390.5" font-size="7.2" font-weight="bold" text-anchor="end" transform="rotate(-45 569.8 390.5)" stroke="#000" stroke-width="0.25">ctr</text>
<line x1="580.43" y1="382.8" x2="580.43" y2="385.1" stroke="#000" stroke-width="1.2"/>
<text x="583.63" y="390.5" font-size="7.2" font-weight="bold" text-anchor="end" transform="rotate(-45 583.63 390.5)" stroke="#000" stroke-width="0.25">α-syn</text>
<line x1="594.26" y1="382.8" x2="594.26" y2="385.1" stroke="#000" stroke-width="1.2"/>
<text x="597.46" y="390.5" font-size="7.2" font-weight="bold" text-anchor="end" transform="rotate(-45 597.46 390.5)" stroke="#000" stroke-width="0.25">α-syn+CHPG</text>
<line x1="608.09" y1="382.8" x2="608.09" y2="385.1" stroke="#000" stroke-width="1.2"/>
<text x="611.29" y="390.5" font-size="7.2" font-weight="bold" text-anchor="end" transform="rotate(-45 611.29 390.5)" stroke="#000" stroke-width="0.25">LPS</text>
<line x1="621.92" y1="382.8" x2="621.92" y2="385.1" stroke="#000" stroke-width="1.2"/>
<text x="625.12" y="390.5" font-size="7.2" font-weight="bold" text-anchor="end" transform="rotate(-45 625.12 390.5)" stroke="#000" stroke-width="0.25">LPS+CHPG</text>
<line x1="635.75" y1="382.8" x2="635.75" y2="385.1" stroke="#000" stroke-width="1.2"/>
<text x="638.95" y="390.5" font-size="7.2" font-weight="bold" text-anchor="end" transform="rotate(-45 638.95 390.5)" stroke="#000" stroke-width="0.25">LPS+α-syn</text>
<line x1="649.58" y1="382.8" x2="649.58" y2="385.1" stroke="#000" stroke-width="1.2"/>
<text x="652.78" y="390.5" font-size="7.2" font-weight="bold" text-anchor="end" transform="rotate(-45 652.78 390.5)" stroke="#000" stroke-width="0.25">LPS+α-syn+CHPG</text>
<line x1="663.41" y1="382.8" x2="663.41" y2="385.1" stroke="#000" stroke-width="1.2"/>
<text x="666.61" y="390.5" font-size="7.2" font-weight="bold" text-anchor="end" transform="rotate(-45 666.61 390.5)" stroke="#000" stroke-width="0.25">CHPG</text>
<text x="528.8" y="345.3" font-size="9.1" text-anchor="middle" transform="rotate(-90 528.8 345.3)" stroke="#000" stroke-width="0.4">Supernatant TNF-α (pg/mL)</text>
<path d="M580.5 346.2V342.9H594.8V346.2" fill="none" stroke="#000" stroke-width="0.9"/>
<text x="587.65" y="340.8" font-size="6.4" text-anchor="middle" stroke="#000" stroke-width="0.4">###</text>
<path d="M608.1 322.5V319.2H622.3V322.5" fill="none" stroke="#000" stroke-width="0.9"/>
<text x="615.2" y="317.1" font-size="6.4" text-anchor="middle" stroke="#000" stroke-width="0.4">&amp;&amp;&amp;</text>
<path d="M635.9 308.1V304.8H650V308.1" fill="none" stroke="#000" stroke-width="0.9"/>
<text x="642.95" y="302.7" font-size="6.4" text-anchor="middle" stroke="#000" stroke-width="0.4">ns</text>
<text x="580.5" y="352.42" font-size="8.5" font-weight="bold" text-anchor="middle" stroke="#000" stroke-width="0.55">***</text>
<text x="608.1" y="329.32" font-size="8.5" font-weight="bold" text-anchor="middle" stroke="#000" stroke-width="0.55">***</text>
<text x="635.9" y="314.52" font-size="8.5" font-weight="bold" text-anchor="middle" stroke="#000" stroke-width="0.55">***</text>
<text x="501.4" y="309.7" font-size="16.5" font-weight="bold" stroke="#000" stroke-width="0.45">h</text>
<line x1="330.35" y1="469.33" x2="330.35" y2="465.9" stroke="#000" stroke-width="1"/>
<line x1="327.44" y1="465.9" x2="333.26" y2="465.9" stroke="#000" stroke-width="1"/>
<rect x="326.12" y="469.33" width="8.45" height="49.07" fill="#fff" stroke="#000" stroke-width="1.25"/>
<line x1="344.32" y1="490.92" x2="344.32" y2="488.47" stroke="#000" stroke-width="1"/>
<line x1="341.41" y1="488.47" x2="347.23" y2="488.47" stroke="#000" stroke-width="1"/>
<rect x="340.1" y="490.92" width="8.45" height="27.48" fill="#b8b8b8" stroke="#000" stroke-width="1.25"/>
<line x1="358.29" y1="475.22" x2="358.29" y2="472.77" stroke="#000" stroke-width="1"/>
<line x1="355.38" y1="472.77" x2="361.2" y2="472.77" stroke="#000" stroke-width="1"/>
<rect x="354.06" y="475.22" width="8.45" height="43.18" fill="#fff" stroke="#000" stroke-width="1.25"/>
<line x1="372.26" y1="498.28" x2="372.26" y2="497.3" stroke="#000" stroke-width="1"/>
<line x1="369.35" y1="497.3" x2="375.17" y2="497.3" stroke="#000" stroke-width="1"/>
<rect x="368.04" y="498.28" width="8.45" height="20.12" fill="#4b4b4b" stroke="#000" stroke-width="1.25"/>
<line x1="386.23" y1="476.2" x2="386.23" y2="474.73" stroke="#000" stroke-width="1"/>
<line x1="383.32" y1="474.73" x2="389.14" y2="474.73" stroke="#000" stroke-width="1"/>
<rect x="382" y="476.2" width="8.45" height="42.2" fill="#fff" stroke="#000" stroke-width="1.25"/>
<line x1="400.2" y1="500.25" x2="400.2" y2="499.26" stroke="#000" stroke-width="1"/>
<line x1="397.29" y1="499.26" x2="403.11" y2="499.26" stroke="#000" stroke-width="1"/>
<rect x="395.98" y="500.25" width="8.45" height="18.15" fill="#131313" stroke="#000" stroke-width="1.25"/>
<line x1="414.17" y1="474.73" x2="414.17" y2="470.31" stroke="#000" stroke-width="1"/>
<line x1="411.26" y1="470.31" x2="417.08" y2="470.31" stroke="#000" stroke-width="1"/>
<rect x="409.94" y="474.73" width="8.45" height="43.67" fill="#fff" stroke="#000" stroke-width="1.25"/>
<line x1="428.14" y1="468.35" x2="428.14" y2="465.9" stroke="#000" stroke-width="1"/>
<line x1="425.23" y1="465.9" x2="431.05" y2="465.9" stroke="#000" stroke-width="1"/>
<rect x="423.92" y="468.35" width="8.45" height="50.05" fill="#fff" stroke="#000" stroke-width="1.25"/>
<line x1="323.4" y1="444.3" x2="323.4" y2="518.9" stroke="#000" stroke-width="1.2"/>
<line x1="322.9" y1="518.4" x2="436.5" y2="518.4" stroke="#000" stroke-width="1.2"/>
<line x1="321.1" y1="518.4" x2="323.4" y2="518.4" stroke="#000" stroke-width="1.2"/>
<text x="319.5" y="521.05" font-size="9.8" text-anchor="end" stroke="#000" stroke-width="0.3">0</text>
<line x1="321.1" y1="493.87" x2="323.4" y2="493.87" stroke="#000" stroke-width="1.2"/>
<text x="319.5" y="496.51" font-size="9.8" text-anchor="end" stroke="#000" stroke-width="0.3">0.5</text>
<line x1="321.1" y1="469.33" x2="323.4" y2="469.33" stroke="#000" stroke-width="1.2"/>
<text x="319.5" y="471.98" font-size="9.8" text-anchor="end" stroke="#000" stroke-width="0.3">1.0</text>
<line x1="321.1" y1="444.8" x2="323.4" y2="444.8" stroke="#000" stroke-width="1.2"/>
<text x="319.5" y="447.45" font-size="9.8" text-anchor="end" stroke="#000" stroke-width="0.3">1.5</text>
<line x1="330.35" y1="518.4" x2="330.35" y2="520.7" stroke="#000" stroke-width="1.2"/>
<text x="331.35" y="526.7" font-size="7.1" font-weight="bold" text-anchor="end" transform="rotate(-45 331.35 526.7)" stroke="#000" stroke-width="0.25">ctr</text>
<line x1="344.32" y1="518.4" x2="344.32" y2="520.7" stroke="#000" stroke-width="1.2"/>
<text x="345.32" y="526.7" font-size="7.1" font-weight="bold" text-anchor="end" transform="rotate(-45 345.32 526.7)" stroke="#000" stroke-width="0.25">α-syn</text>
<line x1="358.29" y1="518.4" x2="358.29" y2="520.7" stroke="#000" stroke-width="1.2"/>
<text x="359.29" y="526.7" font-size="7.1" font-weight="bold" text-anchor="end" transform="rotate(-45 359.29 526.7)" stroke="#000" stroke-width="0.25">α-syn+CHPG</text>
<line x1="372.26" y1="518.4" x2="372.26" y2="520.7" stroke="#000" stroke-width="1.2"/>
<text x="373.26" y="526.7" font-size="7.1" font-weight="bold" text-anchor="end" transform="rotate(-45 373.26 526.7)" stroke="#000" stroke-width="0.25">LPS</text>
<line x1="386.23" y1="518.4" x2="386.23" y2="520.7" stroke="#000" stroke-width="1.2"/>
<text x="387.23" y="526.7" font-size="7.1" font-weight="bold" text-anchor="end" transform="rotate(-45 387.23 526.7)" stroke="#000" stroke-width="0.25">LPS+CHPG</text>
<line x1="400.2" y1="518.4" x2="400.2" y2="520.7" stroke="#000" stroke-width="1.2"/>
<text x="401.2" y="526.7" font-size="7.1" font-weight="bold" text-anchor="end" transform="rotate(-45 401.2 526.7)" stroke="#000" stroke-width="0.25">LPS+α-syn</text>
<line x1="414.17" y1="518.4" x2="414.17" y2="520.7" stroke="#000" stroke-width="1.2"/>
<text x="415.17" y="526.7" font-size="7.1" font-weight="bold" text-anchor="end" transform="rotate(-45 415.17 526.7)" stroke="#000" stroke-width="0.25">LPS+α-syn+CHPG</text>
<line x1="428.14" y1="518.4" x2="428.14" y2="520.7" stroke="#000" stroke-width="1.2"/>
<text x="429.14" y="526.7" font-size="7.1" font-weight="bold" text-anchor="end" transform="rotate(-45 429.14 526.7)" stroke="#000" stroke-width="0.25">CHPG</text>
<text x="294.4" y="480.5" font-size="9.3" text-anchor="middle" transform="rotate(-90 294.4 480.5)" stroke="#000" stroke-width="0.4">mGluR5 expression</text>
<text x="304" y="480.5" font-size="9.3" text-anchor="middle" transform="rotate(-90 304 480.5)" stroke="#000" stroke-width="0.4">(fold of ctr)</text>
<path d="M344.3 469.9V466.6H358.3V469.9" fill="none" stroke="#000" stroke-width="0.9"/>
<text x="351.3" y="464.5" font-size="6.3" text-anchor="middle" stroke="#000" stroke-width="0.4">##</text>
<path d="M372 472.4V469.1H386V472.4" fill="none" stroke="#000" stroke-width="0.9"/>
<text x="379" y="467" font-size="6.3" text-anchor="middle" stroke="#000" stroke-width="0.4">&amp;&amp;&amp;</text>
<path d="M400 466.7V463.4H414V466.7" fill="none" stroke="#000" stroke-width="0.9"/>
<text x="407" y="461.3" font-size="6.3" text-anchor="middle" stroke="#000" stroke-width="0.4">$$$</text>
<text x="344.6" y="488.82" font-size="8.5" font-weight="bold" text-anchor="middle" stroke="#000" stroke-width="0.55">***</text>
<text x="372.4" y="496.02" font-size="8.5" font-weight="bold" text-anchor="middle" stroke="#000" stroke-width="0.55">***</text>
<text x="400.2" y="497.92" font-size="8.5" font-weight="bold" text-anchor="middle" stroke="#000" stroke-width="0.55">***</text>
<text x="268.3" y="448" font-size="16.5" font-weight="bold" stroke="#000" stroke-width="0.45">j</text>
<line x1="563.4" y1="513.09" x2="563.4" y2="512.6" stroke="#000" stroke-width="1"/>
<line x1="560.52" y1="512.6" x2="566.28" y2="512.6" stroke="#000" stroke-width="1"/>
<rect x="559.23" y="513.09" width="8.35" height="4.91" fill="#fff" stroke="#000" stroke-width="1.25"/>
<line x1="577.2" y1="467.46" x2="577.2" y2="463.05" stroke="#000" stroke-width="1"/>
<line x1="574.32" y1="463.05" x2="580.08" y2="463.05" stroke="#000" stroke-width="1"/>
<rect x="573.02" y="467.46" width="8.35" height="50.54" fill="#b8b8b8" stroke="#000" stroke-width="1.25"/>
<line x1="591" y1="472.37" x2="591" y2="469.42" stroke="#000" stroke-width="1"/>
<line x1="588.12" y1="469.42" x2="593.88" y2="469.42" stroke="#000" stroke-width="1"/>
<rect x="586.83" y="472.37" width="8.35" height="45.63" fill="#fff" stroke="#000" stroke-width="1.25"/>
<line x1="604.8" y1="499.35" x2="604.8" y2="497.88" stroke="#000" stroke-width="1"/>
<line x1="601.92" y1="497.88" x2="607.68" y2="497.88" stroke="#000" stroke-width="1"/>
<rect x="600.62" y="499.35" width="8.35" height="18.65" fill="#4b4b4b" stroke="#000" stroke-width="1.25"/>
<line x1="618.6" y1="505.24" x2="618.6" y2="504.26" stroke="#000" stroke-width="1"/>
<line x1="615.72" y1="504.26" x2="621.48" y2="504.26" stroke="#000" stroke-width="1"/>
<rect x="614.43" y="505.24" width="8.35" height="12.76" fill="#fff" stroke="#000" stroke-width="1.25"/>
<line x1="632.4" y1="463.54" x2="632.4" y2="461.57" stroke="#000" stroke-width="1"/>
<line x1="629.52" y1="461.57" x2="635.28" y2="461.57" stroke="#000" stroke-width="1"/>
<rect x="628.23" y="463.54" width="8.35" height="54.46" fill="#131313" stroke="#000" stroke-width="1.25"/>
<line x1="646.2" y1="465.99" x2="646.2" y2="463.54" stroke="#000" stroke-width="1"/>
<line x1="643.32" y1="463.54" x2="649.08" y2="463.54" stroke="#000" stroke-width="1"/>
<rect x="642.03" y="465.99" width="8.35" height="52.01" fill="#fff" stroke="#000" stroke-width="1.25"/>
<line x1="660" y1="513.58" x2="660" y2="513.34" stroke="#000" stroke-width="1"/>
<line x1="657.12" y1="513.34" x2="662.88" y2="513.34" stroke="#000" stroke-width="1"/>
<rect x="655.83" y="513.58" width="8.35" height="4.42" fill="#fff" stroke="#000" stroke-width="1.25"/>
<line x1="555.8" y1="443.9" x2="555.8" y2="518.5" stroke="#000" stroke-width="1.2"/>
<line x1="555.3" y1="518" x2="668" y2="518" stroke="#000" stroke-width="1.2"/>
<line x1="553.5" y1="518" x2="555.8" y2="518" stroke="#000" stroke-width="1.2"/>
<text x="551.9" y="520.65" font-size="9.8" text-anchor="end" stroke="#000" stroke-width="0.3">0</text>
<line x1="553.5" y1="493.47" x2="555.8" y2="493.47" stroke="#000" stroke-width="1.2"/>
<text x="551.9" y="496.11" font-size="9.8" text-anchor="end" stroke="#000" stroke-width="0.3">5</text>
<line x1="553.5" y1="468.93" x2="555.8" y2="468.93" stroke="#000" stroke-width="1.2"/>
<text x="551.9" y="471.58" font-size="9.8" text-anchor="end" stroke="#000" stroke-width="0.3">10</text>
<line x1="553.5" y1="444.4" x2="555.8" y2="444.4" stroke="#000" stroke-width="1.2"/>
<text x="551.9" y="447.05" font-size="9.8" text-anchor="end" stroke="#000" stroke-width="0.3">15</text>
<line x1="563.4" y1="518" x2="563.4" y2="520.3" stroke="#000" stroke-width="1.2"/>
<text x="564.4" y="526.3" font-size="7.1" font-weight="bold" text-anchor="end" transform="rotate(-45 564.4 526.3)" stroke="#000" stroke-width="0.25">ctr</text>
<line x1="577.2" y1="518" x2="577.2" y2="520.3" stroke="#000" stroke-width="1.2"/>
<text x="578.2" y="526.3" font-size="7.1" font-weight="bold" text-anchor="end" transform="rotate(-45 578.2 526.3)" stroke="#000" stroke-width="0.25">α-syn</text>
<line x1="591" y1="518" x2="591" y2="520.3" stroke="#000" stroke-width="1.2"/>
<text x="592" y="526.3" font-size="7.1" font-weight="bold" text-anchor="end" transform="rotate(-45 592 526.3)" stroke="#000" stroke-width="0.25">α-syn+CHPG</text>
<line x1="604.8" y1="518" x2="604.8" y2="520.3" stroke="#000" stroke-width="1.2"/>
<text x="605.8" y="526.3" font-size="7.1" font-weight="bold" text-anchor="end" transform="rotate(-45 605.8 526.3)" stroke="#000" stroke-width="0.25">LPS</text>
<line x1="618.6" y1="518" x2="618.6" y2="520.3" stroke="#000" stroke-width="1.2"/>
<text x="619.6" y="526.3" font-size="7.1" font-weight="bold" text-anchor="end" transform="rotate(-45 619.6 526.3)" stroke="#000" stroke-width="0.25">LPS+CHPG</text>
<line x1="632.4" y1="518" x2="632.4" y2="520.3" stroke="#000" stroke-width="1.2"/>
<text x="633.4" y="526.3" font-size="7.1" font-weight="bold" text-anchor="end" transform="rotate(-45 633.4 526.3)" stroke="#000" stroke-width="0.25">LPS+α-syn</text>
<line x1="646.2" y1="518" x2="646.2" y2="520.3" stroke="#000" stroke-width="1.2"/>
<text x="647.2" y="526.3" font-size="7.1" font-weight="bold" text-anchor="end" transform="rotate(-45 647.2 526.3)" stroke="#000" stroke-width="0.25">LPS+α-syn+CHPG</text>
<line x1="660" y1="518" x2="660" y2="520.3" stroke="#000" stroke-width="1.2"/>
<text x="661" y="526.3" font-size="7.1" font-weight="bold" text-anchor="end" transform="rotate(-45 661 526.3)" stroke="#000" stroke-width="0.25">CHPG</text>
<text x="528.4" y="481" font-size="9.3" text-anchor="middle" transform="rotate(-90 528.4 481)" stroke="#000" stroke-width="0.4">α-syn expression</text>
<text x="536.9" y="481" font-size="9.3" text-anchor="middle" transform="rotate(-90 536.9 481)" stroke="#000" stroke-width="0.4">(fold of ctr)</text>
<path d="M577.2 456.1V452.8H591V456.1" fill="none" stroke="#000" stroke-width="0.9"/>
<text x="584.1" y="450.7" font-size="7.4" text-anchor="middle" stroke="#000" stroke-width="0.4">ns</text>
<path d="M604.8 490.8V487.5H618.6V490.8" fill="none" stroke="#000" stroke-width="0.9"/>
<text x="611.7" y="485.4" font-size="7.4" text-anchor="middle" stroke="#000" stroke-width="0.4">&amp;</text>
<path d="M632.4 453.4V450.1H646.2V453.4" fill="none" stroke="#000" stroke-width="0.9"/>
<text x="639.3" y="448" font-size="7.4" text-anchor="middle" stroke="#000" stroke-width="0.4">ns</text>
<text x="577.2" y="462.82" font-size="8.5" font-weight="bold" text-anchor="middle" stroke="#000" stroke-width="0.55">***</text>
<text x="604.6" y="498.12" font-size="8.5" font-weight="bold" text-anchor="middle" stroke="#000" stroke-width="0.55">***</text>
<text x="632.6" y="460.72" font-size="8.5" font-weight="bold" text-anchor="middle" stroke="#000" stroke-width="0.55">***</text>
<text x="503" y="448.7" font-size="16.5" font-weight="bold" stroke="#000" stroke-width="0.45">k</text>
<line x1="288.55" y1="686.14" x2="288.55" y2="685.86" stroke="#000" stroke-width="1"/>
<line x1="287.25" y1="685.86" x2="289.85" y2="685.86" stroke="#000" stroke-width="1"/>
<rect x="286.9" y="686.14" width="3.3" height="5.75" fill="#fff" stroke="#000" stroke-width="1"/>
<line x1="294.95" y1="686.14" x2="294.95" y2="685.86" stroke="#000" stroke-width="1"/>
<line x1="293.65" y1="685.86" x2="296.25" y2="685.86" stroke="#000" stroke-width="1"/>
<rect x="293.3" y="686.14" width="3.3" height="5.75" fill="#b4b4b4" stroke="#000" stroke-width="1"/>
<line x1="301.25" y1="685.57" x2="301.25" y2="685.28" stroke="#000" stroke-width="1"/>
<line x1="299.95" y1="685.28" x2="302.55" y2="685.28" stroke="#000" stroke-width="1"/>
<rect x="299.6" y="685.57" width="3.3" height="6.33" fill="#101010" stroke="#000" stroke-width="1"/>
<line x1="310.8" y1="649.6" x2="310.8" y2="646.15" stroke="#000" stroke-width="1"/>
<line x1="309.5" y1="646.15" x2="312.1" y2="646.15" stroke="#000" stroke-width="1"/>
<rect x="309.15" y="649.6" width="3.3" height="42.3" fill="#fff" stroke="#000" stroke-width="1"/>
<line x1="317.2" y1="644.13" x2="317.2" y2="640.68" stroke="#000" stroke-width="1"/>
<line x1="315.9" y1="640.68" x2="318.5" y2="640.68" stroke="#000" stroke-width="1"/>
<rect x="315.55" y="644.13" width="3.3" height="47.77" fill="#b4b4b4" stroke="#000" stroke-width="1"/>
<line x1="323.5" y1="636.94" x2="323.5" y2="632.62" stroke="#000" stroke-width="1"/>
<line x1="322.2" y1="632.62" x2="324.8" y2="632.62" stroke="#000" stroke-width="1"/>
<rect x="321.85" y="636.94" width="3.3" height="54.96" fill="#101010" stroke="#000" stroke-width="1"/>
<line x1="333.05" y1="674.35" x2="333.05" y2="671.47" stroke="#000" stroke-width="1"/>
<line x1="331.75" y1="671.47" x2="334.35" y2="671.47" stroke="#000" stroke-width="1"/>
<rect x="331.4" y="674.35" width="3.3" height="17.55" fill="#fff" stroke="#000" stroke-width="1"/>
<line x1="339.45" y1="671.18" x2="339.45" y2="668.88" stroke="#000" stroke-width="1"/>
<line x1="338.15" y1="668.88" x2="340.75" y2="668.88" stroke="#000" stroke-width="1"/>
<rect x="337.8" y="671.18" width="3.3" height="20.72" fill="#b4b4b4" stroke="#000" stroke-width="1"/>
<line x1="345.75" y1="660.82" x2="345.75" y2="659.1" stroke="#000" stroke-width="1"/>
<line x1="344.45" y1="659.1" x2="347.05" y2="659.1" stroke="#000" stroke-width="1"/>
<rect x="344.1" y="660.82" width="3.3" height="31.08" fill="#101010" stroke="#000" stroke-width="1"/>
<line x1="355.3" y1="625.14" x2="355.3" y2="622.55" stroke="#000" stroke-width="1"/>
<line x1="354" y1="622.55" x2="356.6" y2="622.55" stroke="#000" stroke-width="1"/>
<rect x="353.65" y="625.14" width="3.3" height="66.76" fill="#fff" stroke="#000" stroke-width="1"/>
<line x1="361.7" y1="629.17" x2="361.7" y2="625.72" stroke="#000" stroke-width="1"/>
<line x1="360.4" y1="625.72" x2="363" y2="625.72" stroke="#000" stroke-width="1"/>
<rect x="360.05" y="629.17" width="3.3" height="62.73" fill="#b4b4b4" stroke="#000" stroke-width="1"/>
<line x1="368" y1="623.99" x2="368" y2="621.11" stroke="#000" stroke-width="1"/>
<line x1="366.7" y1="621.11" x2="369.3" y2="621.11" stroke="#000" stroke-width="1"/>
<rect x="366.35" y="623.99" width="3.3" height="67.91" fill="#101010" stroke="#000" stroke-width="1"/>
<line x1="377.55" y1="657.37" x2="377.55" y2="654.49" stroke="#000" stroke-width="1"/>
<line x1="376.25" y1="654.49" x2="378.85" y2="654.49" stroke="#000" stroke-width="1"/>
<rect x="375.9" y="657.37" width="3.3" height="34.53" fill="#fff" stroke="#000" stroke-width="1"/>
<line x1="383.95" y1="652.77" x2="383.95" y2="648.74" stroke="#000" stroke-width="1"/>
<line x1="382.65" y1="648.74" x2="385.25" y2="648.74" stroke="#000" stroke-width="1"/>
<rect x="382.3" y="652.77" width="3.3" height="39.13" fill="#b4b4b4" stroke="#000" stroke-width="1"/>
<line x1="390.25" y1="648.74" x2="390.25" y2="647.01" stroke="#000" stroke-width="1"/>
<line x1="388.95" y1="647.01" x2="391.55" y2="647.01" stroke="#000" stroke-width="1"/>
<rect x="388.6" y="648.74" width="3.3" height="43.16" fill="#101010" stroke="#000" stroke-width="1"/>
<line x1="399.8" y1="623.42" x2="399.8" y2="620.54" stroke="#000" stroke-width="1"/>
<line x1="398.5" y1="620.54" x2="401.1" y2="620.54" stroke="#000" stroke-width="1"/>
<rect x="398.15" y="623.42" width="3.3" height="68.48" fill="#fff" stroke="#000" stroke-width="1"/>
<line x1="406.2" y1="610.18" x2="406.2" y2="608.45" stroke="#000" stroke-width="1"/>
<line x1="404.9" y1="608.45" x2="407.5" y2="608.45" stroke="#000" stroke-width="1"/>
<rect x="404.55" y="610.18" width="3.3" height="81.72" fill="#b4b4b4" stroke="#000" stroke-width="1"/>
<line x1="412.5" y1="625.14" x2="412.5" y2="622.84" stroke="#000" stroke-width="1"/>
<line x1="411.2" y1="622.84" x2="413.8" y2="622.84" stroke="#000" stroke-width="1"/>
<rect x="410.85" y="625.14" width="3.3" height="66.76" fill="#101010" stroke="#000" stroke-width="1"/>
<line x1="422.05" y1="646.44" x2="422.05" y2="641.26" stroke="#000" stroke-width="1"/>
<line x1="420.75" y1="641.26" x2="423.35" y2="641.26" stroke="#000" stroke-width="1"/>
<rect x="420.4" y="646.44" width="3.3" height="45.46" fill="#fff" stroke="#000" stroke-width="1"/>
<line x1="428.45" y1="611.33" x2="428.45" y2="609.6" stroke="#000" stroke-width="1"/>
<line x1="427.15" y1="609.6" x2="429.75" y2="609.6" stroke="#000" stroke-width="1"/>
<rect x="426.8" y="611.33" width="3.3" height="80.57" fill="#b4b4b4" stroke="#000" stroke-width="1"/>
<line x1="434.75" y1="628.02" x2="434.75" y2="625.14" stroke="#000" stroke-width="1"/>
<line x1="433.45" y1="625.14" x2="436.05" y2="625.14" stroke="#000" stroke-width="1"/>
<rect x="433.1" y="628.02" width="3.3" height="63.88" fill="#101010" stroke="#000" stroke-width="1"/>
<line x1="444.3" y1="686.14" x2="444.3" y2="685.86" stroke="#000" stroke-width="1"/>
<line x1="443" y1="685.86" x2="445.6" y2="685.86" stroke="#000" stroke-width="1"/>
<rect x="442.65" y="686.14" width="3.3" height="5.75" fill="#fff" stroke="#000" stroke-width="1"/>
<line x1="450.7" y1="686.14" x2="450.7" y2="685.86" stroke="#000" stroke-width="1"/>
<line x1="449.4" y1="685.86" x2="452" y2="685.86" stroke="#000" stroke-width="1"/>
<rect x="449.05" y="686.14" width="3.3" height="5.75" fill="#b4b4b4" stroke="#000" stroke-width="1"/>
<line x1="457" y1="685.86" x2="457" y2="685.57" stroke="#000" stroke-width="1"/>
<line x1="455.7" y1="685.57" x2="458.3" y2="685.57" stroke="#000" stroke-width="1"/>
<rect x="455.35" y="685.86" width="3.3" height="6.04" fill="#101010" stroke="#000" stroke-width="1"/>
<line x1="282.7" y1="576.3" x2="282.7" y2="692.4" stroke="#000" stroke-width="1.2"/>
<line x1="282.2" y1="691.9" x2="463.1" y2="691.9" stroke="#000" stroke-width="1.2"/>
<line x1="280.5" y1="691.9" x2="282.7" y2="691.9" stroke="#000" stroke-width="1.2"/>
<text x="279.6" y="694.11" font-size="8.2" text-anchor="end" stroke="#000" stroke-width="0.3">0</text>
<line x1="280.5" y1="663.12" x2="282.7" y2="663.12" stroke="#000" stroke-width="1.2"/>
<text x="279.6" y="665.34" font-size="8.2" text-anchor="end" stroke="#000" stroke-width="0.3">5</text>
<line x1="280.5" y1="634.35" x2="282.7" y2="634.35" stroke="#000" stroke-width="1.2"/>
<text x="279.6" y="636.56" font-size="8.2" text-anchor="end" stroke="#000" stroke-width="0.3">10</text>
<line x1="280.5" y1="605.57" x2="282.7" y2="605.57" stroke="#000" stroke-width="1.2"/>
<text x="279.6" y="607.79" font-size="8.2" text-anchor="end" stroke="#000" stroke-width="0.3">15</text>
<line x1="280.5" y1="576.8" x2="282.7" y2="576.8" stroke="#000" stroke-width="1.2"/>
<text x="279.6" y="579.01" font-size="8.2" text-anchor="end" stroke="#000" stroke-width="0.3">20</text>
<line x1="294.9" y1="691.9" x2="294.9" y2="694.1" stroke="#000" stroke-width="1.2"/>
<text x="296.4" y="697.9" font-size="5.6" font-weight="bold" text-anchor="end" transform="rotate(-45 296.4 697.9)" stroke="#000" stroke-width="0.2">ctr</text>
<line x1="317.15" y1="691.9" x2="317.15" y2="694.1" stroke="#000" stroke-width="1.2"/>
<text x="318.65" y="697.9" font-size="5.6" font-weight="bold" text-anchor="end" transform="rotate(-45 318.65 697.9)" stroke="#000" stroke-width="0.2">α-syn</text>
<line x1="339.4" y1="691.9" x2="339.4" y2="694.1" stroke="#000" stroke-width="1.2"/>
<text x="340.9" y="697.9" font-size="5.6" font-weight="bold" text-anchor="end" transform="rotate(-45 340.9 697.9)" stroke="#000" stroke-width="0.2">α-syn+CHPG</text>
<line x1="361.65" y1="691.9" x2="361.65" y2="694.1" stroke="#000" stroke-width="1.2"/>
<text x="363.15" y="697.9" font-size="5.6" font-weight="bold" text-anchor="end" transform="rotate(-45 363.15 697.9)" stroke="#000" stroke-width="0.2">LPS</text>
<line x1="383.9" y1="691.9" x2="383.9" y2="694.1" stroke="#000" stroke-width="1.2"/>
<text x="385.4" y="697.9" font-size="5.6" font-weight="bold" text-anchor="end" transform="rotate(-45 385.4 697.9)" stroke="#000" stroke-width="0.2">LPS+CHPG</text>
<line x1="406.15" y1="691.9" x2="406.15" y2="694.1" stroke="#000" stroke-width="1.2"/>
<text x="407.65" y="697.9" font-size="5.6" font-weight="bold" text-anchor="end" transform="rotate(-45 407.65 697.9)" stroke="#000" stroke-width="0.2">LPS+α-syn</text>
<line x1="428.4" y1="691.9" x2="428.4" y2="694.1" stroke="#000" stroke-width="1.2"/>
<text x="429.9" y="697.9" font-size="5.6" font-weight="bold" text-anchor="end" transform="rotate(-45 429.9 697.9)" stroke="#000" stroke-width="0.2">LPS+α-syn+CHPG</text>
<line x1="450.65" y1="691.9" x2="450.65" y2="694.1" stroke="#000" stroke-width="1.2"/>
<text x="452.15" y="697.9" font-size="5.6" font-weight="bold" text-anchor="end" transform="rotate(-45 452.15 697.9)" stroke="#000" stroke-width="0.2">CHPG</text>
<text x="258.2" y="636.5" font-size="8.3" text-anchor="middle" transform="rotate(-90 258.2 636.5)" stroke="#000" stroke-width="0.4">Analysis of relavant proteins</text>
<text x="265.7" y="636.5" font-size="8.3" text-anchor="middle" transform="rotate(-90 265.7 636.5)" stroke="#000" stroke-width="0.4">(fold of ctr)</text>
<path d="M311.5 613.6V610.3H333.5V613.6" fill="none" stroke="#000" stroke-width="0.9"/>
<text x="322.5" y="608.2" font-size="6.2" text-anchor="middle" stroke="#000" stroke-width="0.4">###</text>
<path d="M317.4 621.5V618.2H339.4V621.5" fill="none" stroke="#000" stroke-width="0.9"/>
<text x="328.4" y="616.1" font-size="6.2" text-anchor="middle" stroke="#000" stroke-width="0.4">###</text>
<path d="M323.3 629.5V626.2H345.3V629.5" fill="none" stroke="#000" stroke-width="0.9"/>
<text x="334.3" y="624.1" font-size="6.2" text-anchor="middle" stroke="#000" stroke-width="0.4">###</text>
<path d="M355.1 597V593.7H377.5V597" fill="none" stroke="#000" stroke-width="0.9"/>
<text x="366.3" y="591.6" font-size="6.2" text-anchor="middle" stroke="#000" stroke-width="0.4">&amp;&amp;&amp;</text>
<path d="M361.9 606.6V603.3H383.4V606.6" fill="none" stroke="#000" stroke-width="0.9"/>
<text x="372.65" y="601.2" font-size="6.2" text-anchor="middle" stroke="#000" stroke-width="0.4">&amp;&amp;&amp;</text>
<path d="M367.7 616.8V613.5H389.5V616.8" fill="none" stroke="#000" stroke-width="0.9"/>
<text x="378.6" y="611.4" font-size="6.2" text-anchor="middle" stroke="#000" stroke-width="0.4">&amp;&amp;&amp;</text>
<path d="M400.5 590.4V587.1H422.5V590.4" fill="none" stroke="#000" stroke-width="0.9"/>
<text x="411.5" y="585" font-size="6.2" text-anchor="middle" stroke="#000" stroke-width="0.4">$$$</text>
<path d="M406.4 598.8V595.5H428.4V598.8" fill="none" stroke="#000" stroke-width="0.9"/>
<text x="417.4" y="593.4" font-size="6.2" text-anchor="middle" stroke="#000" stroke-width="0.4">ns</text>
<path d="M412.7 607V603.7H434.7V607" fill="none" stroke="#000" stroke-width="0.9"/>
<text x="423.7" y="601.6" font-size="6.2" text-anchor="middle" stroke="#000" stroke-width="0.4">ns</text>
<text x="309.5" y="646.93" font-size="6.4" font-weight="bold" text-anchor="middle" stroke="#000" stroke-width="0.4">***</text>
<text x="316.5" y="641.53" font-size="6.4" font-weight="bold" text-anchor="middle" stroke="#000" stroke-width="0.4">***</text>
<text x="323.5" y="634.33" font-size="6.4" font-weight="bold" text-anchor="middle" stroke="#000" stroke-width="0.4">***</text>
<text x="354.5" y="622.43" font-size="6.4" font-weight="bold" text-anchor="middle" stroke="#000" stroke-width="0.4">***</text>
<text x="361" y="624.93" font-size="6.4" font-weight="bold" text-anchor="middle" stroke="#000" stroke-width="0.4">***</text>
<text x="368" y="622.03" font-size="6.4" font-weight="bold" text-anchor="middle" stroke="#000" stroke-width="0.4">***</text>
<text x="398.5" y="621.33" font-size="6.4" font-weight="bold" text-anchor="middle" stroke="#000" stroke-width="0.4">***</text>
<text x="405.5" y="608.73" font-size="6.4" font-weight="bold" text-anchor="middle" stroke="#000" stroke-width="0.4">***</text>
<text x="413" y="622.23" font-size="6.4" font-weight="bold" text-anchor="middle" stroke="#000" stroke-width="0.4">***</text>
<rect x="450.9" y="574.9" width="8.8" height="4.9" fill="#fff" stroke="#000" stroke-width="0.9"/>
<text x="462.6" y="579.44" font-size="6.38" stroke="#000" stroke-width="0.3">iNOS</text>
<rect x="450.9" y="584.5" width="8.8" height="4.9" fill="#b4b4b4" stroke="#000" stroke-width="0.9"/>
<text x="462.6" y="589.04" font-size="6.38" stroke="#000" stroke-width="0.3">COX-2</text>
<rect x="450.9" y="594.7" width="8.8" height="4.9" fill="#101010" stroke="#000" stroke-width="0.9"/>
<text x="462.6" y="599.24" font-size="6.38" stroke="#000" stroke-width="0.3">TNF-α</text>
<text x="269.8" y="563" font-size="16.5" font-weight="bold" stroke="#000" stroke-width="0.45">l</text>
<line x1="553.75" y1="683.57" x2="553.75" y2="683.29" stroke="#000" stroke-width="1"/>
<line x1="552.45" y1="683.29" x2="555.05" y2="683.29" stroke="#000" stroke-width="1"/>
<rect x="552" y="683.57" width="3.5" height="5.73" fill="#fff" stroke="#000" stroke-width="1"/>
<line x1="559.75" y1="683.29" x2="559.75" y2="683" stroke="#000" stroke-width="1"/>
<line x1="558.45" y1="683" x2="561.05" y2="683" stroke="#000" stroke-width="1"/>
<rect x="558" y="683.29" width="3.5" height="6.01" fill="#4f4f4f" stroke="#000" stroke-width="1"/>
<line x1="569.68" y1="636.06" x2="569.68" y2="634.34" stroke="#000" stroke-width="1"/>
<line x1="568.38" y1="634.34" x2="570.98" y2="634.34" stroke="#000" stroke-width="1"/>
<rect x="567.93" y="636.06" width="3.5" height="53.24" fill="#fff" stroke="#000" stroke-width="1"/>
<line x1="575.68" y1="640.92" x2="575.68" y2="638.35" stroke="#000" stroke-width="1"/>
<line x1="574.38" y1="638.35" x2="576.98" y2="638.35" stroke="#000" stroke-width="1"/>
<rect x="573.93" y="640.92" width="3.5" height="48.38" fill="#4f4f4f" stroke="#000" stroke-width="1"/>
<line x1="585.61" y1="650.94" x2="585.61" y2="648.65" stroke="#000" stroke-width="1"/>
<line x1="584.31" y1="648.65" x2="586.91" y2="648.65" stroke="#000" stroke-width="1"/>
<rect x="583.86" y="650.94" width="3.5" height="38.36" fill="#fff" stroke="#000" stroke-width="1"/>
<line x1="591.61" y1="656.67" x2="591.61" y2="654.95" stroke="#000" stroke-width="1"/>
<line x1="590.31" y1="654.95" x2="592.91" y2="654.95" stroke="#000" stroke-width="1"/>
<rect x="589.86" y="656.67" width="3.5" height="32.63" fill="#4f4f4f" stroke="#000" stroke-width="1"/>
<line x1="601.54" y1="612.3" x2="601.54" y2="610.29" stroke="#000" stroke-width="1"/>
<line x1="600.24" y1="610.29" x2="602.84" y2="610.29" stroke="#000" stroke-width="1"/>
<rect x="599.79" y="612.3" width="3.5" height="77" fill="#fff" stroke="#000" stroke-width="1"/>
<line x1="607.54" y1="606.86" x2="607.54" y2="604.28" stroke="#000" stroke-width="1"/>
<line x1="606.24" y1="604.28" x2="608.84" y2="604.28" stroke="#000" stroke-width="1"/>
<rect x="605.79" y="606.86" width="3.5" height="82.44" fill="#4f4f4f" stroke="#000" stroke-width="1"/>
<line x1="617.47" y1="628.04" x2="617.47" y2="624.03" stroke="#000" stroke-width="1"/>
<line x1="616.17" y1="624.03" x2="618.77" y2="624.03" stroke="#000" stroke-width="1"/>
<rect x="615.72" y="628.04" width="3.5" height="61.26" fill="#fff" stroke="#000" stroke-width="1"/>
<line x1="623.47" y1="636.06" x2="623.47" y2="631.19" stroke="#000" stroke-width="1"/>
<line x1="622.17" y1="631.19" x2="624.77" y2="631.19" stroke="#000" stroke-width="1"/>
<rect x="621.72" y="636.06" width="3.5" height="53.24" fill="#4f4f4f" stroke="#000" stroke-width="1"/>
<line x1="633.4" y1="604.28" x2="633.4" y2="601.71" stroke="#000" stroke-width="1"/>
<line x1="632.1" y1="601.71" x2="634.7" y2="601.71" stroke="#000" stroke-width="1"/>
<rect x="631.65" y="604.28" width="3.5" height="85.02" fill="#fff" stroke="#000" stroke-width="1"/>
<line x1="639.4" y1="597.13" x2="639.4" y2="594.26" stroke="#000" stroke-width="1"/>
<line x1="638.1" y1="594.26" x2="640.7" y2="594.26" stroke="#000" stroke-width="1"/>
<rect x="637.65" y="597.13" width="3.5" height="92.17" fill="#4f4f4f" stroke="#000" stroke-width="1"/>
<line x1="649.33" y1="612.58" x2="649.33" y2="608.58" stroke="#000" stroke-width="1"/>
<line x1="648.03" y1="608.58" x2="650.63" y2="608.58" stroke="#000" stroke-width="1"/>
<rect x="647.58" y="612.58" width="3.5" height="76.72" fill="#fff" stroke="#000" stroke-width="1"/>
<line x1="655.33" y1="605.71" x2="655.33" y2="601.71" stroke="#000" stroke-width="1"/>
<line x1="654.03" y1="601.71" x2="656.63" y2="601.71" stroke="#000" stroke-width="1"/>
<rect x="653.58" y="605.71" width="3.5" height="83.59" fill="#4f4f4f" stroke="#000" stroke-width="1"/>
<line x1="665.26" y1="683.29" x2="665.26" y2="683" stroke="#000" stroke-width="1"/>
<line x1="663.96" y1="683" x2="666.56" y2="683" stroke="#000" stroke-width="1"/>
<rect x="663.51" y="683.29" width="3.5" height="6.01" fill="#fff" stroke="#000" stroke-width="1"/>
<line x1="671.26" y1="683.29" x2="671.26" y2="683" stroke="#000" stroke-width="1"/>
<line x1="669.96" y1="683" x2="672.56" y2="683" stroke="#000" stroke-width="1"/>
<rect x="669.51" y="683.29" width="3.5" height="6.01" fill="#4f4f4f" stroke="#000" stroke-width="1"/>
<line x1="548.3" y1="574.3" x2="548.3" y2="689.8" stroke="#000" stroke-width="1.2"/>
<line x1="547.8" y1="689.3" x2="677" y2="689.3" stroke="#000" stroke-width="1.2"/>
<line x1="546.1" y1="689.3" x2="548.3" y2="689.3" stroke="#000" stroke-width="1.2"/>
<text x="545.2" y="691.51" font-size="8.2" text-anchor="end" stroke="#000" stroke-width="0.3">0</text>
<line x1="546.1" y1="660.67" x2="548.3" y2="660.67" stroke="#000" stroke-width="1.2"/>
<text x="545.2" y="662.89" font-size="8.2" text-anchor="end" stroke="#000" stroke-width="0.3">5</text>
<line x1="546.1" y1="632.05" x2="548.3" y2="632.05" stroke="#000" stroke-width="1.2"/>
<text x="545.2" y="634.26" font-size="8.2" text-anchor="end" stroke="#000" stroke-width="0.3">10</text>
<line x1="546.1" y1="603.42" x2="548.3" y2="603.42" stroke="#000" stroke-width="1.2"/>
<text x="545.2" y="605.64" font-size="8.2" text-anchor="end" stroke="#000" stroke-width="0.3">15</text>
<line x1="546.1" y1="574.8" x2="548.3" y2="574.8" stroke="#000" stroke-width="1.2"/>
<text x="545.2" y="577.01" font-size="8.2" text-anchor="end" stroke="#000" stroke-width="0.3">20</text>
<line x1="556.75" y1="689.3" x2="556.75" y2="691.5" stroke="#000" stroke-width="1.2"/>
<text x="558.25" y="695.3" font-size="5.6" font-weight="bold" text-anchor="end" transform="rotate(-45 558.25 695.3)" stroke="#000" stroke-width="0.2">ctr</text>
<line x1="572.68" y1="689.3" x2="572.68" y2="691.5" stroke="#000" stroke-width="1.2"/>
<text x="574.18" y="695.3" font-size="5.6" font-weight="bold" text-anchor="end" transform="rotate(-45 574.18 695.3)" stroke="#000" stroke-width="0.2">α-syn</text>
<line x1="588.61" y1="689.3" x2="588.61" y2="691.5" stroke="#000" stroke-width="1.2"/>
<text x="590.11" y="695.3" font-size="5.6" font-weight="bold" text-anchor="end" transform="rotate(-45 590.11 695.3)" stroke="#000" stroke-width="0.2">α-syn+CHPG</text>
<line x1="604.54" y1="689.3" x2="604.54" y2="691.5" stroke="#000" stroke-width="1.2"/>
<text x="606.04" y="695.3" font-size="5.6" font-weight="bold" text-anchor="end" transform="rotate(-45 606.04 695.3)" stroke="#000" stroke-width="0.2">LPS</text>
<line x1="620.47" y1="689.3" x2="620.47" y2="691.5" stroke="#000" stroke-width="1.2"/>
<text x="621.97" y="695.3" font-size="5.6" font-weight="bold" text-anchor="end" transform="rotate(-45 621.97 695.3)" stroke="#000" stroke-width="0.2">LPS+CHPG</text>
<line x1="636.4" y1="689.3" x2="636.4" y2="691.5" stroke="#000" stroke-width="1.2"/>
<text x="637.9" y="695.3" font-size="5.6" font-weight="bold" text-anchor="end" transform="rotate(-45 637.9 695.3)" stroke="#000" stroke-width="0.2">LPS+α-syn</text>
<line x1="652.33" y1="689.3" x2="652.33" y2="691.5" stroke="#000" stroke-width="1.2"/>
<text x="653.83" y="695.3" font-size="5.6" font-weight="bold" text-anchor="end" transform="rotate(-45 653.83 695.3)" stroke="#000" stroke-width="0.2">LPS+α-syn+CHPG</text>
<line x1="668.26" y1="689.3" x2="668.26" y2="691.5" stroke="#000" stroke-width="1.2"/>
<text x="669.76" y="695.3" font-size="5.6" font-weight="bold" text-anchor="end" transform="rotate(-45 669.76 695.3)" stroke="#000" stroke-width="0.2">CHPG</text>
<text x="526.6" y="628.8" font-size="8.3" text-anchor="middle" transform="rotate(-90 526.6 628.8)" stroke="#000" stroke-width="0.4">Analysis of relavant signalings</text>
<text x="534.3" y="628.8" font-size="8.3" text-anchor="middle" transform="rotate(-90 534.3 628.8)" stroke="#000" stroke-width="0.4">(fold of ctr)</text>
<path d="M569.2 626.1V622.8H585.8V626.1" fill="none" stroke="#000" stroke-width="0.9"/>
<text x="577.5" y="620.7" font-size="6.2" text-anchor="middle" stroke="#000" stroke-width="0.4">###</text>
<path d="M575.1 635.4V632.1H591.7V635.4" fill="none" stroke="#000" stroke-width="0.9"/>
<text x="583.4" y="630" font-size="6.2" text-anchor="middle" stroke="#000" stroke-width="0.4">##</text>
<path d="M600.2 590V586.7H617.4V590" fill="none" stroke="#000" stroke-width="0.9"/>
<text x="608.8" y="584.6" font-size="6.2" text-anchor="middle" stroke="#000" stroke-width="0.4">&amp;&amp;&amp;</text>
<path d="M607.5 598.8V595.5H623.9V598.8" fill="none" stroke="#000" stroke-width="0.9"/>
<text x="615.7" y="593.4" font-size="6.2" text-anchor="middle" stroke="#000" stroke-width="0.4">&amp;&amp;&amp;</text>
<path d="M632.4 579.9V576.6H649.6V579.9" fill="none" stroke="#000" stroke-width="0.9"/>
<text x="641" y="574.5" font-size="6.2" text-anchor="middle" stroke="#000" stroke-width="0.4">ns</text>
<path d="M639.1 588.6V585.3H656.1V588.6" fill="none" stroke="#000" stroke-width="0.9"/>
<text x="647.6" y="583.2" font-size="6.2" text-anchor="middle" stroke="#000" stroke-width="0.4">ns</text>
<text x="569" y="635.43" font-size="6.4" font-weight="bold" text-anchor="middle" stroke="#000" stroke-width="0.4">***</text>
<text x="575.3" y="641.33" font-size="6.4" font-weight="bold" text-anchor="middle" stroke="#000" stroke-width="0.4">***</text>
<text x="600.5" y="611.13" font-size="6.4" font-weight="bold" text-anchor="middle" stroke="#000" stroke-width="0.4">***</text>
<text x="607.2" y="605.23" font-size="6.4" font-weight="bold" text-anchor="middle" stroke="#000" stroke-width="0.4">***</text>
<text x="632.6" y="601.83" font-size="6.4" font-weight="bold" text-anchor="middle" stroke="#000" stroke-width="0.4">***</text>
<text x="639" y="594.33" font-size="6.4" font-weight="bold" text-anchor="middle" stroke="#000" stroke-width="0.4">***</text>
<rect x="661.4" y="575.8" width="9.9" height="4.9" fill="#fff" stroke="#000" stroke-width="0.9"/>
<text x="672.8" y="580.32" font-size="6.33" stroke="#000" stroke-width="0.3">p-p38</text>
<rect x="661.4" y="585.7" width="9.9" height="4.9" fill="#4f4f4f" stroke="#000" stroke-width="0.9"/>
<text x="672.8" y="590.22" font-size="6.33" stroke="#000" stroke-width="0.3">p-NFκB p65</text>
<text x="503.4" y="562.6" font-size="16.5" font-weight="bold" stroke="#000" stroke-width="0.45">m</text>
<line x1="119.05" y1="816.01" x2="119.05" y2="815.09" stroke="#000" stroke-width="1"/>
<line x1="116.26" y1="815.09" x2="121.84" y2="815.09" stroke="#000" stroke-width="1"/>
<rect x="115.03" y="816.01" width="8.05" height="4.39" fill="#fff" stroke="#000" stroke-width="1.25"/>
<line x1="132.88" y1="787.46" x2="132.88" y2="783.8" stroke="#000" stroke-width="1"/>
<line x1="130.09" y1="783.8" x2="135.67" y2="783.8" stroke="#000" stroke-width="1"/>
<rect x="128.86" y="787.46" width="8.05" height="32.94" fill="#b8b8b8" stroke="#000" stroke-width="1.25"/>
<line x1="146.71" y1="803.2" x2="146.71" y2="800.64" stroke="#000" stroke-width="1"/>
<line x1="143.92" y1="800.64" x2="149.5" y2="800.64" stroke="#000" stroke-width="1"/>
<rect x="142.69" y="803.2" width="8.05" height="17.2" fill="#fff" stroke="#000" stroke-width="1.25"/>
<line x1="160.54" y1="761.11" x2="160.54" y2="757.45" stroke="#000" stroke-width="1"/>
<line x1="157.75" y1="757.45" x2="163.33" y2="757.45" stroke="#000" stroke-width="1"/>
<rect x="156.52" y="761.11" width="8.05" height="59.29" fill="#4b4b4b" stroke="#000" stroke-width="1.25"/>
<line x1="174.37" y1="785.26" x2="174.37" y2="782.88" stroke="#000" stroke-width="1"/>
<line x1="171.58" y1="782.88" x2="177.16" y2="782.88" stroke="#000" stroke-width="1"/>
<rect x="170.34" y="785.26" width="8.05" height="35.14" fill="#fff" stroke="#000" stroke-width="1.25"/>
<line x1="188.2" y1="759.64" x2="188.2" y2="757.81" stroke="#000" stroke-width="1"/>
<line x1="185.41" y1="757.81" x2="190.99" y2="757.81" stroke="#000" stroke-width="1"/>
<rect x="184.18" y="759.64" width="8.05" height="60.76" fill="#131313" stroke="#000" stroke-width="1.25"/>
<line x1="202.03" y1="771.72" x2="202.03" y2="768.43" stroke="#000" stroke-width="1"/>
<line x1="199.24" y1="768.43" x2="204.82" y2="768.43" stroke="#000" stroke-width="1"/>
<rect x="198" y="771.72" width="8.05" height="48.68" fill="#fff" stroke="#000" stroke-width="1.25"/>
<line x1="215.86" y1="816.37" x2="215.86" y2="815.28" stroke="#000" stroke-width="1"/>
<line x1="213.07" y1="815.28" x2="218.65" y2="815.28" stroke="#000" stroke-width="1"/>
<rect x="211.84" y="816.37" width="8.05" height="4.03" fill="#fff" stroke="#000" stroke-width="1.25"/>
<line x1="112.4" y1="746.7" x2="112.4" y2="820.9" stroke="#000" stroke-width="1.2"/>
<line x1="111.9" y1="820.4" x2="224" y2="820.4" stroke="#000" stroke-width="1.2"/>
<line x1="110.1" y1="820.4" x2="112.4" y2="820.4" stroke="#000" stroke-width="1.2"/>
<text x="107.7" y="822.94" font-size="9.4" text-anchor="end" stroke="#000" stroke-width="0.3">0</text>
<line x1="110.1" y1="802.1" x2="112.4" y2="802.1" stroke="#000" stroke-width="1.2"/>
<text x="107.7" y="804.64" font-size="9.4" text-anchor="end" stroke="#000" stroke-width="0.3">5</text>
<line x1="110.1" y1="783.8" x2="112.4" y2="783.8" stroke="#000" stroke-width="1.2"/>
<text x="107.7" y="786.34" font-size="9.4" text-anchor="end" stroke="#000" stroke-width="0.3">10</text>
<line x1="110.1" y1="765.5" x2="112.4" y2="765.5" stroke="#000" stroke-width="1.2"/>
<text x="107.7" y="768.04" font-size="9.4" text-anchor="end" stroke="#000" stroke-width="0.3">15</text>
<line x1="110.1" y1="747.2" x2="112.4" y2="747.2" stroke="#000" stroke-width="1.2"/>
<text x="107.7" y="749.74" font-size="9.4" text-anchor="end" stroke="#000" stroke-width="0.3">20</text>
<line x1="119.05" y1="820.4" x2="119.05" y2="822.7" stroke="#000" stroke-width="1.2"/>
<text x="122.25" y="828.1" font-size="7.05" font-weight="bold" text-anchor="end" transform="rotate(-45 122.25 828.1)" stroke="#000" stroke-width="0.25">ctr</text>
<line x1="132.88" y1="820.4" x2="132.88" y2="822.7" stroke="#000" stroke-width="1.2"/>
<text x="136.08" y="828.1" font-size="7.05" font-weight="bold" text-anchor="end" transform="rotate(-45 136.08 828.1)" stroke="#000" stroke-width="0.25">α-syn</text>
<line x1="146.71" y1="820.4" x2="146.71" y2="822.7" stroke="#000" stroke-width="1.2"/>
<text x="149.91" y="828.1" font-size="7.05" font-weight="bold" text-anchor="end" transform="rotate(-45 149.91 828.1)" stroke="#000" stroke-width="0.25">α-syn+CHPG</text>
<line x1="160.54" y1="820.4" x2="160.54" y2="822.7" stroke="#000" stroke-width="1.2"/>
<text x="163.74" y="828.1" font-size="7.05" font-weight="bold" text-anchor="end" transform="rotate(-45 163.74 828.1)" stroke="#000" stroke-width="0.25">LPS</text>
<line x1="174.37" y1="820.4" x2="174.37" y2="822.7" stroke="#000" stroke-width="1.2"/>
<text x="177.57" y="828.1" font-size="7.05" font-weight="bold" text-anchor="end" transform="rotate(-45 177.57 828.1)" stroke="#000" stroke-width="0.25">LPS+CHPG</text>
<line x1="188.2" y1="820.4" x2="188.2" y2="822.7" stroke="#000" stroke-width="1.2"/>
<text x="191.4" y="828.1" font-size="7.05" font-weight="bold" text-anchor="end" transform="rotate(-45 191.4 828.1)" stroke="#000" stroke-width="0.25">LPS+α-syn</text>
<line x1="202.03" y1="820.4" x2="202.03" y2="822.7" stroke="#000" stroke-width="1.2"/>
<text x="205.23" y="828.1" font-size="7.05" font-weight="bold" text-anchor="end" transform="rotate(-45 205.23 828.1)" stroke="#000" stroke-width="0.25">LPS+α-syn+CHPG</text>
<line x1="215.86" y1="820.4" x2="215.86" y2="822.7" stroke="#000" stroke-width="1.2"/>
<text x="219.06" y="828.1" font-size="7.05" font-weight="bold" text-anchor="end" transform="rotate(-45 219.06 828.1)" stroke="#000" stroke-width="0.25">CHPG</text>
<text x="93.4" y="784.5" font-size="9.2" text-anchor="middle" transform="rotate(-90 93.4 784.5)" stroke="#000" stroke-width="0.4">Supernatant Nitrite (μM)</text>
<path d="M133.2 777.7V774.4H147.4V777.7" fill="none" stroke="#000" stroke-width="0.9"/>
<text x="140.3" y="772.3" font-size="6.4" text-anchor="middle" stroke="#000" stroke-width="0.4">###</text>
<path d="M160.5 751.5V748.2H174.3V751.5" fill="none" stroke="#000" stroke-width="0.9"/>
<text x="167.4" y="746.1" font-size="6.4" text-anchor="middle" stroke="#000" stroke-width="0.4">&amp;&amp;&amp;</text>
<path d="M188 750.5V747.2H202V750.5" fill="none" stroke="#000" stroke-width="0.9"/>
<text x="195" y="745.1" font-size="6.4" text-anchor="middle" stroke="#000" stroke-width="0.4">$$$</text>
<text x="133.2" y="784.52" font-size="8.5" font-weight="bold" text-anchor="middle" stroke="#000" stroke-width="0.55">***</text>
<text x="160.5" y="757.92" font-size="8.5" font-weight="bold" text-anchor="middle" stroke="#000" stroke-width="0.55">***</text>
<text x="188.2" y="756.92" font-size="8.5" font-weight="bold" text-anchor="middle" stroke="#000" stroke-width="0.55">***</text>
<text x="58.6" y="733.8" font-size="16.5" font-weight="bold" stroke="#000" stroke-width="0.45">n</text>
<line x1="329.6" y1="817.1" x2="329.6" y2="816.61" stroke="#000" stroke-width="1"/>
<line x1="326.66" y1="816.61" x2="332.54" y2="816.61" stroke="#000" stroke-width="1"/>
<rect x="325.32" y="817.1" width="8.55" height="3.2" fill="#fff" stroke="#000" stroke-width="1.25"/>
<line x1="343.4" y1="774.54" x2="343.4" y2="773.56" stroke="#000" stroke-width="1"/>
<line x1="340.46" y1="773.56" x2="346.34" y2="773.56" stroke="#000" stroke-width="1"/>
<rect x="339.12" y="774.54" width="8.55" height="45.76" fill="#b8b8b8" stroke="#000" stroke-width="1.25"/>
<line x1="357.2" y1="792.5" x2="357.2" y2="788.32" stroke="#000" stroke-width="1"/>
<line x1="354.26" y1="788.32" x2="360.14" y2="788.32" stroke="#000" stroke-width="1"/>
<rect x="352.93" y="792.5" width="8.55" height="27.8" fill="#fff" stroke="#000" stroke-width="1.25"/>
<line x1="371" y1="763.72" x2="371" y2="760.28" stroke="#000" stroke-width="1"/>
<line x1="368.06" y1="760.28" x2="373.94" y2="760.28" stroke="#000" stroke-width="1"/>
<rect x="366.73" y="763.72" width="8.55" height="56.58" fill="#4b4b4b" stroke="#000" stroke-width="1.25"/>
<line x1="384.8" y1="788.07" x2="384.8" y2="784.63" stroke="#000" stroke-width="1"/>
<line x1="381.86" y1="784.63" x2="387.74" y2="784.63" stroke="#000" stroke-width="1"/>
<rect x="380.52" y="788.07" width="8.55" height="32.23" fill="#fff" stroke="#000" stroke-width="1.25"/>
<line x1="398.6" y1="755.36" x2="398.6" y2="751.42" stroke="#000" stroke-width="1"/>
<line x1="395.66" y1="751.42" x2="401.54" y2="751.42" stroke="#000" stroke-width="1"/>
<rect x="394.32" y="755.36" width="8.55" height="64.94" fill="#131313" stroke="#000" stroke-width="1.25"/>
<line x1="412.4" y1="758.06" x2="412.4" y2="755.36" stroke="#000" stroke-width="1"/>
<line x1="409.46" y1="755.36" x2="415.34" y2="755.36" stroke="#000" stroke-width="1"/>
<rect x="408.12" y="758.06" width="8.55" height="62.24" fill="#fff" stroke="#000" stroke-width="1.25"/>
<line x1="426.2" y1="818.09" x2="426.2" y2="817.59" stroke="#000" stroke-width="1"/>
<line x1="423.26" y1="817.59" x2="429.14" y2="817.59" stroke="#000" stroke-width="1"/>
<rect x="421.93" y="818.09" width="8.55" height="2.21" fill="#fff" stroke="#000" stroke-width="1.25"/>
<line x1="322.7" y1="746" x2="322.7" y2="820.8" stroke="#000" stroke-width="1.2"/>
<line x1="322.2" y1="820.3" x2="435" y2="820.3" stroke="#000" stroke-width="1.2"/>
<line x1="320.4" y1="820.3" x2="322.7" y2="820.3" stroke="#000" stroke-width="1.2"/>
<text x="318" y="822.84" font-size="9.4" text-anchor="end" stroke="#000" stroke-width="0.3">0</text>
<line x1="320.4" y1="795.7" x2="322.7" y2="795.7" stroke="#000" stroke-width="1.2"/>
<text x="318" y="798.24" font-size="9.4" text-anchor="end" stroke="#000" stroke-width="0.3">500</text>
<line x1="320.4" y1="771.1" x2="322.7" y2="771.1" stroke="#000" stroke-width="1.2"/>
<text x="318" y="773.64" font-size="9.4" text-anchor="end" stroke="#000" stroke-width="0.3">1000</text>
<line x1="320.4" y1="746.5" x2="322.7" y2="746.5" stroke="#000" stroke-width="1.2"/>
<text x="318" y="749.04" font-size="9.4" text-anchor="end" stroke="#000" stroke-width="0.3">1500</text>
<line x1="329.6" y1="820.3" x2="329.6" y2="822.6" stroke="#000" stroke-width="1.2"/>
<text x="332.8" y="828" font-size="7.05" font-weight="bold" text-anchor="end" transform="rotate(-45 332.8 828)" stroke="#000" stroke-width="0.25">ctr</text>
<line x1="343.4" y1="820.3" x2="343.4" y2="822.6" stroke="#000" stroke-width="1.2"/>
<text x="346.6" y="828" font-size="7.05" font-weight="bold" text-anchor="end" transform="rotate(-45 346.6 828)" stroke="#000" stroke-width="0.25">α-syn</text>
<line x1="357.2" y1="820.3" x2="357.2" y2="822.6" stroke="#000" stroke-width="1.2"/>
<text x="360.4" y="828" font-size="7.05" font-weight="bold" text-anchor="end" transform="rotate(-45 360.4 828)" stroke="#000" stroke-width="0.25">α-syn+CHPG</text>
<line x1="371" y1="820.3" x2="371" y2="822.6" stroke="#000" stroke-width="1.2"/>
<text x="374.2" y="828" font-size="7.05" font-weight="bold" text-anchor="end" transform="rotate(-45 374.2 828)" stroke="#000" stroke-width="0.25">LPS</text>
<line x1="384.8" y1="820.3" x2="384.8" y2="822.6" stroke="#000" stroke-width="1.2"/>
<text x="388" y="828" font-size="7.05" font-weight="bold" text-anchor="end" transform="rotate(-45 388 828)" stroke="#000" stroke-width="0.25">LPS+CHPG</text>
<line x1="398.6" y1="820.3" x2="398.6" y2="822.6" stroke="#000" stroke-width="1.2"/>
<text x="401.8" y="828" font-size="7.05" font-weight="bold" text-anchor="end" transform="rotate(-45 401.8 828)" stroke="#000" stroke-width="0.25">LPS+α-syn</text>
<line x1="412.4" y1="820.3" x2="412.4" y2="822.6" stroke="#000" stroke-width="1.2"/>
<text x="415.6" y="828" font-size="7.05" font-weight="bold" text-anchor="end" transform="rotate(-45 415.6 828)" stroke="#000" stroke-width="0.25">LPS+α-syn+CHPG</text>
<line x1="426.2" y1="820.3" x2="426.2" y2="822.6" stroke="#000" stroke-width="1.2"/>
<text x="429.4" y="828" font-size="7.05" font-weight="bold" text-anchor="end" transform="rotate(-45 429.4 828)" stroke="#000" stroke-width="0.25">CHPG</text>
<text x="295.7" y="787.2" font-size="9.2" text-anchor="middle" transform="rotate(-90 295.7 787.2)" stroke="#000" stroke-width="0.4">Supernatant PGE<tspan font-size="5.6" dy="2.2">2</tspan><tspan dy="-2.2"> (pg/mL)</tspan></text>
<path d="M343.4 767.5V764.2H357.2V767.5" fill="none" stroke="#000" stroke-width="0.9"/>
<text x="350.3" y="762.1" font-size="6.4" text-anchor="middle" stroke="#000" stroke-width="0.4">###</text>
<path d="M371.2 754.7V751.4H385V754.7" fill="none" stroke="#000" stroke-width="0.9"/>
<text x="378.1" y="749.3" font-size="6.4" text-anchor="middle" stroke="#000" stroke-width="0.4">&amp;&amp;&amp;</text>
<path d="M398.8 745.8V742.5H412.6V745.8" fill="none" stroke="#000" stroke-width="0.9"/>
<text x="405.7" y="740.4" font-size="6.4" text-anchor="middle" stroke="#000" stroke-width="0.4">ns</text>
<text x="343.4" y="773.32" font-size="8.5" font-weight="bold" text-anchor="middle" stroke="#000" stroke-width="0.55">***</text>
<text x="371.2" y="760.52" font-size="8.5" font-weight="bold" text-anchor="middle" stroke="#000" stroke-width="0.55">***</text>
<text x="398.8" y="752.02" font-size="8.5" font-weight="bold" text-anchor="middle" stroke="#000" stroke-width="0.55">***</text>
<text x="266.5" y="735.5" font-size="16.5" font-weight="bold" stroke="#000" stroke-width="0.45">o</text>
<line x1="568.7" y1="815.4" x2="568.7" y2="814.52" stroke="#000" stroke-width="1"/>
<line x1="565.76" y1="814.52" x2="571.64" y2="814.52" stroke="#000" stroke-width="1"/>
<rect x="564.42" y="815.4" width="8.55" height="2.5" fill="#fff" stroke="#000" stroke-width="1.25"/>
<line x1="582.5" y1="778.26" x2="582.5" y2="772.39" stroke="#000" stroke-width="1"/>
<line x1="579.56" y1="772.39" x2="585.44" y2="772.39" stroke="#000" stroke-width="1"/>
<rect x="578.22" y="778.26" width="8.55" height="39.64" fill="#b8b8b8" stroke="#000" stroke-width="1.25"/>
<line x1="596.3" y1="797.79" x2="596.3" y2="796.17" stroke="#000" stroke-width="1"/>
<line x1="593.36" y1="796.17" x2="599.24" y2="796.17" stroke="#000" stroke-width="1"/>
<rect x="592.02" y="797.79" width="8.55" height="20.11" fill="#fff" stroke="#000" stroke-width="1.25"/>
<line x1="610.1" y1="760.35" x2="610.1" y2="756.24" stroke="#000" stroke-width="1"/>
<line x1="607.16" y1="756.24" x2="613.04" y2="756.24" stroke="#000" stroke-width="1"/>
<rect x="605.82" y="760.35" width="8.55" height="57.55" fill="#4b4b4b" stroke="#000" stroke-width="1.25"/>
<line x1="623.9" y1="784.14" x2="623.9" y2="782.37" stroke="#000" stroke-width="1"/>
<line x1="620.96" y1="782.37" x2="626.84" y2="782.37" stroke="#000" stroke-width="1"/>
<rect x="619.62" y="784.14" width="8.55" height="33.76" fill="#fff" stroke="#000" stroke-width="1.25"/>
<line x1="637.7" y1="756.24" x2="637.7" y2="750.37" stroke="#000" stroke-width="1"/>
<line x1="634.76" y1="750.37" x2="640.64" y2="750.37" stroke="#000" stroke-width="1"/>
<rect x="633.42" y="756.24" width="8.55" height="61.66" fill="#131313" stroke="#000" stroke-width="1.25"/>
<line x1="651.5" y1="759.91" x2="651.5" y2="756.98" stroke="#000" stroke-width="1"/>
<line x1="648.56" y1="756.98" x2="654.44" y2="756.98" stroke="#000" stroke-width="1"/>
<rect x="647.22" y="759.91" width="8.55" height="57.99" fill="#fff" stroke="#000" stroke-width="1.25"/>
<line x1="665.3" y1="815.11" x2="665.3" y2="813.06" stroke="#000" stroke-width="1"/>
<line x1="662.36" y1="813.06" x2="668.24" y2="813.06" stroke="#000" stroke-width="1"/>
<rect x="661.02" y="815.11" width="8.55" height="2.79" fill="#fff" stroke="#000" stroke-width="1.25"/>
<line x1="561.2" y1="744" x2="561.2" y2="818.4" stroke="#000" stroke-width="1.2"/>
<line x1="560.7" y1="817.9" x2="674" y2="817.9" stroke="#000" stroke-width="1.2"/>
<line x1="558.9" y1="817.9" x2="561.2" y2="817.9" stroke="#000" stroke-width="1.2"/>
<text x="556.5" y="820.44" font-size="9.4" text-anchor="end" stroke="#000" stroke-width="0.3">0</text>
<line x1="558.9" y1="803.22" x2="561.2" y2="803.22" stroke="#000" stroke-width="1.2"/>
<text x="556.5" y="805.76" font-size="9.4" text-anchor="end" stroke="#000" stroke-width="0.3">1000</text>
<line x1="558.9" y1="788.54" x2="561.2" y2="788.54" stroke="#000" stroke-width="1.2"/>
<text x="556.5" y="791.08" font-size="9.4" text-anchor="end" stroke="#000" stroke-width="0.3">2000</text>
<line x1="558.9" y1="773.86" x2="561.2" y2="773.86" stroke="#000" stroke-width="1.2"/>
<text x="556.5" y="776.4" font-size="9.4" text-anchor="end" stroke="#000" stroke-width="0.3">3000</text>
<line x1="558.9" y1="759.18" x2="561.2" y2="759.18" stroke="#000" stroke-width="1.2"/>
<text x="556.5" y="761.72" font-size="9.4" text-anchor="end" stroke="#000" stroke-width="0.3">4000</text>
<line x1="558.9" y1="744.5" x2="561.2" y2="744.5" stroke="#000" stroke-width="1.2"/>
<text x="556.5" y="747.04" font-size="9.4" text-anchor="end" stroke="#000" stroke-width="0.3">5000</text>
<line x1="568.7" y1="817.9" x2="568.7" y2="820.2" stroke="#000" stroke-width="1.2"/>
<text x="571.9" y="825.6" font-size="7.05" font-weight="bold" text-anchor="end" transform="rotate(-45 571.9 825.6)" stroke="#000" stroke-width="0.25">ctr</text>
<line x1="582.5" y1="817.9" x2="582.5" y2="820.2" stroke="#000" stroke-width="1.2"/>
<text x="585.7" y="825.6" font-size="7.05" font-weight="bold" text-anchor="end" transform="rotate(-45 585.7 825.6)" stroke="#000" stroke-width="0.25">α-syn</text>
<line x1="596.3" y1="817.9" x2="596.3" y2="820.2" stroke="#000" stroke-width="1.2"/>
<text x="599.5" y="825.6" font-size="7.05" font-weight="bold" text-anchor="end" transform="rotate(-45 599.5 825.6)" stroke="#000" stroke-width="0.25">α-syn+CHPG</text>
<line x1="610.1" y1="817.9" x2="610.1" y2="820.2" stroke="#000" stroke-width="1.2"/>
<text x="613.3" y="825.6" font-size="7.05" font-weight="bold" text-anchor="end" transform="rotate(-45 613.3 825.6)" stroke="#000" stroke-width="0.25">LPS</text>
<line x1="623.9" y1="817.9" x2="623.9" y2="820.2" stroke="#000" stroke-width="1.2"/>
<text x="627.1" y="825.6" font-size="7.05" font-weight="bold" text-anchor="end" transform="rotate(-45 627.1 825.6)" stroke="#000" stroke-width="0.25">LPS+CHPG</text>
<line x1="637.7" y1="817.9" x2="637.7" y2="820.2" stroke="#000" stroke-width="1.2"/>
<text x="640.9" y="825.6" font-size="7.05" font-weight="bold" text-anchor="end" transform="rotate(-45 640.9 825.6)" stroke="#000" stroke-width="0.25">LPS+α-syn</text>
<line x1="651.5" y1="817.9" x2="651.5" y2="820.2" stroke="#000" stroke-width="1.2"/>
<text x="654.7" y="825.6" font-size="7.05" font-weight="bold" text-anchor="end" transform="rotate(-45 654.7 825.6)" stroke="#000" stroke-width="0.25">LPS+α-syn+CHPG</text>
<line x1="665.3" y1="817.9" x2="665.3" y2="820.2" stroke="#000" stroke-width="1.2"/>
<text x="668.5" y="825.6" font-size="7.05" font-weight="bold" text-anchor="end" transform="rotate(-45 668.5 825.6)" stroke="#000" stroke-width="0.25">CHPG</text>
<text x="533.2" y="784.3" font-size="9.1" text-anchor="middle" transform="rotate(-90 533.2 784.3)" stroke="#000" stroke-width="0.4">Supernatant TNF-α (pg/mL)</text>
<path d="M582.5 765.6V762.3H596.5V765.6" fill="none" stroke="#000" stroke-width="0.9"/>
<text x="589.5" y="760.2" font-size="6.4" text-anchor="middle" stroke="#000" stroke-width="0.4">###</text>
<path d="M610.1 751.7V748.4H623.9V751.7" fill="none" stroke="#000" stroke-width="0.9"/>
<text x="617" y="746.3" font-size="6.4" text-anchor="middle" stroke="#000" stroke-width="0.4">&amp;&amp;&amp;</text>
<path d="M637.7 745.8V742.5H651.5V745.8" fill="none" stroke="#000" stroke-width="0.9"/>
<text x="644.6" y="740.4" font-size="6.4" text-anchor="middle" stroke="#000" stroke-width="0.4">ns</text>
<text x="582.5" y="772.22" font-size="8.5" font-weight="bold" text-anchor="middle" stroke="#000" stroke-width="0.55">***</text>
<text x="610.1" y="757.02" font-size="8.5" font-weight="bold" text-anchor="middle" stroke="#000" stroke-width="0.55">***</text>
<text x="637.7" y="752.02" font-size="8.5" font-weight="bold" text-anchor="middle" stroke="#000" stroke-width="0.55">***</text>
<text x="504.8" y="731.7" font-size="16.5" font-weight="bold" stroke="#000" stroke-width="0.45">p</text>
</svg></body></html>
